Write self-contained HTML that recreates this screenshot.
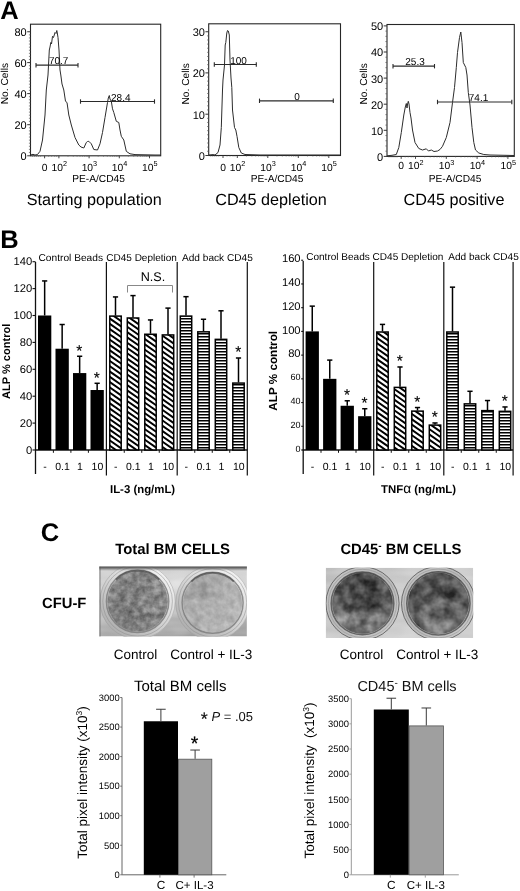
<!DOCTYPE html>
<html lang="en"><head><meta charset="utf-8"><title>Figure</title>
<style>
html,body{margin:0;padding:0;background:#fff;}
svg{display:block;font-family:"Liberation Sans", Arial, Helvetica, sans-serif;will-change:transform;-webkit-font-smoothing:antialiased;}
</style></head><body>
<svg width="520" height="891" viewBox="0 0 520 891" text-rendering="geometricPrecision">
<rect width="520" height="891" fill="#fff"/>

<defs>
<pattern id="hatch" patternUnits="userSpaceOnUse" width="4.2" height="3.3" >
  <rect width="4.2" height="3.3" fill="#fff"/>
  <path d="M-4.2,-3.3 L8.4,6.6 M-4.2,0 L8.4,9.9 M-4.2,-6.6 L8.4,3.3" stroke="#000" stroke-width="1.25"/>
</pattern>
<pattern id="hstripe" patternUnits="userSpaceOnUse" width="4" height="2.72">
  <rect width="4" height="2.72" fill="#fff"/>
  <rect y="0.9" width="4" height="1.25" fill="#000"/>
</pattern>
<filter id="gsoft" x="0" y="0" width="520" height="891" filterUnits="userSpaceOnUse" color-interpolation-filters="sRGB"><feGaussianBlur stdDeviation="0.32"/></filter>
<filter id="soft" x="-2%" y="-2%" width="104%" height="104%" color-interpolation-filters="sRGB"><feGaussianBlur stdDeviation="0.45"/></filter>
<filter id="bgnoise" x="0" y="0" width="100%" height="100%" color-interpolation-filters="sRGB">
  <feTurbulence type="fractalNoise" baseFrequency="0.03 0.12" numOctaves="2" seed="5"/>
  <feColorMatrix type="matrix" values="0 0 0 0 0  0 0 0 0 0  0 0 0 0 0  1.6 0 0 0 -0.3" result="n"/>
  <feFlood flood-color="#fff"/><feComposite in2="n" operator="in"/>
</filter>
<filter id="m1" x="0" y="0" width="100%" height="100%" color-interpolation-filters="sRGB">
  <feTurbulence type="fractalNoise" baseFrequency="0.15" numOctaves="3" seed="11" result="t"/>
  <feColorMatrix in="t" type="matrix" values="0.867 0 0 0 0.087  0.867 0 0 0 0.087  0.867 0 0 0 0.087  0 0 0 0 1" result="g"/>
  <feComposite in="g" in2="SourceGraphic" operator="in"/>
</filter>
<filter id="m2" x="0" y="0" width="100%" height="100%" color-interpolation-filters="sRGB">
  <feTurbulence type="fractalNoise" baseFrequency="0.13" numOctaves="3" seed="23" result="t"/>
  <feColorMatrix in="t" type="matrix" values="0.622 0 0 0 0.366  0.622 0 0 0 0.366  0.622 0 0 0 0.366  0 0 0 0 1" result="g"/>
  <feComposite in="g" in2="SourceGraphic" operator="in"/>
</filter>
<filter id="m3" x="0" y="0" width="100%" height="100%" color-interpolation-filters="sRGB">
  <feTurbulence type="fractalNoise" baseFrequency="0.09" numOctaves="3" seed="8" result="t"/>
  <feColorMatrix in="t" type="matrix" values="1.111 0 0 0 -0.231  1.111 0 0 0 -0.231  1.111 0 0 0 -0.231  0 0 0 0 1" result="g"/>
  <feComposite in="g" in2="SourceGraphic" operator="in"/>
</filter>
<filter id="m4" x="0" y="0" width="100%" height="100%" color-interpolation-filters="sRGB">
  <feTurbulence type="fractalNoise" baseFrequency="0.09" numOctaves="3" seed="31" result="t"/>
  <feColorMatrix in="t" type="matrix" values="1.067 0 0 0 -0.199  1.067 0 0 0 -0.199  1.067 0 0 0 -0.199  0 0 0 0 1" result="g"/>
  <feComposite in="g" in2="SourceGraphic" operator="in"/>
</filter>

<linearGradient id="bg1" x1="0.3" y1="0" x2="0.45" y2="1"><stop offset="0" stop-color="#cbcbcb"/><stop offset="0.4" stop-color="#cecece"/><stop offset="0.8" stop-color="#adadad"/><stop offset="1" stop-color="#989898"/></linearGradient>
<radialGradient id="bg1b" cx="0.52" cy="0.22" r="0.22"><stop offset="0" stop-color="#dedede" stop-opacity="1"/><stop offset="1" stop-color="#d0d0d0" stop-opacity="0"/></radialGradient>
<linearGradient id="bg2" x1="0" y1="0" x2="1" y2="0.5"><stop offset="0" stop-color="#b8b8b8"/><stop offset="0.5" stop-color="#c6c6c6"/><stop offset="1" stop-color="#cacaca"/></linearGradient>
<linearGradient id="rimg" x1="0.1" y1="0.95" x2="0.8" y2="0.05"><stop offset="0" stop-color="#acacac"/><stop offset="0.45" stop-color="#cfcfcf"/><stop offset="1" stop-color="#f0f0f0"/></linearGradient>
<linearGradient id="rimg2" x1="0" y1="0" x2="1" y2="1"><stop offset="0" stop-color="#c4c4c4"/><stop offset="0.5" stop-color="#b8b8b8"/><stop offset="1" stop-color="#cccccc"/></linearGradient>
<linearGradient id="topband" x1="0" y1="0" x2="0" y2="1"><stop offset="0" stop-color="#3c3c3c" stop-opacity="0.95"/><stop offset="0.4" stop-color="#555" stop-opacity="0.7"/><stop offset="1" stop-color="#888" stop-opacity="0"/></linearGradient>
<radialGradient id="d1"><stop offset="0" stop-color="#7c7c7c"/><stop offset="0.85" stop-color="#808080"/><stop offset="1" stop-color="#8e8e8e"/></radialGradient>
<linearGradient id="d2" x1="0.15" y1="0.1" x2="0.85" y2="0.9"><stop offset="0" stop-color="#a0a0a0"/><stop offset="0.5" stop-color="#b0b0b0"/><stop offset="1" stop-color="#c4c4c4"/></linearGradient>
<radialGradient id="d3" cx="0.5" cy="0.4"><stop offset="0" stop-color="#404040"/><stop offset="0.8" stop-color="#585858"/><stop offset="1" stop-color="#6a6a6a"/></radialGradient>
<radialGradient id="d4" cx="0.5" cy="0.45"><stop offset="0" stop-color="#4c4c4c"/><stop offset="0.8" stop-color="#5a5a5a"/><stop offset="1" stop-color="#6c6c6c"/></radialGradient>
<filter id="pblur" x="-50%" y="-50%" width="200%" height="200%" color-interpolation-filters="sRGB"><feGaussianBlur stdDeviation="3.2"/></filter>
<clipPath id="dcd1"><circle cx="137.6" cy="601.3" r="30.2"/></clipPath>
<clipPath id="dcd2"><circle cx="212.6" cy="602.8" r="29.5"/></clipPath>
<clipPath id="dcd3"><circle cx="362.5" cy="603.4" r="30.3"/></clipPath>
<clipPath id="dcd4"><circle cx="438.4" cy="603.4" r="30.6"/></clipPath>
<clipPath id="pc1"><rect x="99.3" y="566.7" width="147.6" height="69.8"/></clipPath>
<clipPath id="pc2"><rect x="325.7" y="567.7" width="147.5" height="70.3"/></clipPath>
</defs>

<g filter="url(#gsoft)">
<rect x="30.5" y="24.2" width="130.2" height="131.60000000000002" fill="none" stroke="#262626" stroke-width="1.1"/>
<line x1="27.2" y1="31.75" x2="30.5" y2="31.75" stroke="#333" stroke-width="1.0" />
<text x="26.7" y="36.15" font-size="11" text-anchor="end" font-weight="normal" fill="#000" >80</text>
<line x1="27.2" y1="62.6" x2="30.5" y2="62.6" stroke="#333" stroke-width="1.0" />
<text x="26.7" y="67.0" font-size="11" text-anchor="end" font-weight="normal" fill="#000" >60</text>
<line x1="27.2" y1="93.6" x2="30.5" y2="93.6" stroke="#333" stroke-width="1.0" />
<text x="26.7" y="98.0" font-size="11" text-anchor="end" font-weight="normal" fill="#000" >40</text>
<line x1="27.2" y1="124.7" x2="30.5" y2="124.7" stroke="#333" stroke-width="1.0" />
<text x="26.7" y="129.1" font-size="11" text-anchor="end" font-weight="normal" fill="#000" >20</text>
<line x1="27.2" y1="155.8" x2="30.5" y2="155.8" stroke="#333" stroke-width="1.0" />
<text x="26.7" y="160.20000000000002" font-size="11" text-anchor="end" font-weight="normal" fill="#000" >0</text>
<line x1="28.9" y1="34.835" x2="30.5" y2="34.835" stroke="#555" stroke-width="0.7" />
<line x1="28.9" y1="37.92" x2="30.5" y2="37.92" stroke="#555" stroke-width="0.7" />
<line x1="28.9" y1="41.005" x2="30.5" y2="41.005" stroke="#555" stroke-width="0.7" />
<line x1="28.9" y1="44.09" x2="30.5" y2="44.09" stroke="#555" stroke-width="0.7" />
<line x1="28.9" y1="47.175" x2="30.5" y2="47.175" stroke="#555" stroke-width="0.7" />
<line x1="28.9" y1="50.260000000000005" x2="30.5" y2="50.260000000000005" stroke="#555" stroke-width="0.7" />
<line x1="28.9" y1="53.345" x2="30.5" y2="53.345" stroke="#555" stroke-width="0.7" />
<line x1="28.9" y1="56.43" x2="30.5" y2="56.43" stroke="#555" stroke-width="0.7" />
<line x1="28.9" y1="59.515" x2="30.5" y2="59.515" stroke="#555" stroke-width="0.7" />
<line x1="28.9" y1="65.685" x2="30.5" y2="65.685" stroke="#555" stroke-width="0.7" />
<line x1="28.9" y1="68.77" x2="30.5" y2="68.77" stroke="#555" stroke-width="0.7" />
<line x1="28.9" y1="71.855" x2="30.5" y2="71.855" stroke="#555" stroke-width="0.7" />
<line x1="28.9" y1="74.94" x2="30.5" y2="74.94" stroke="#555" stroke-width="0.7" />
<line x1="28.9" y1="78.025" x2="30.5" y2="78.025" stroke="#555" stroke-width="0.7" />
<line x1="28.9" y1="81.11" x2="30.5" y2="81.11" stroke="#555" stroke-width="0.7" />
<line x1="28.9" y1="84.19500000000001" x2="30.5" y2="84.19500000000001" stroke="#555" stroke-width="0.7" />
<line x1="28.9" y1="87.28" x2="30.5" y2="87.28" stroke="#555" stroke-width="0.7" />
<line x1="28.9" y1="90.36500000000001" x2="30.5" y2="90.36500000000001" stroke="#555" stroke-width="0.7" />
<line x1="28.9" y1="96.68499999999999" x2="30.5" y2="96.68499999999999" stroke="#555" stroke-width="0.7" />
<line x1="28.9" y1="99.77" x2="30.5" y2="99.77" stroke="#555" stroke-width="0.7" />
<line x1="28.9" y1="102.85499999999999" x2="30.5" y2="102.85499999999999" stroke="#555" stroke-width="0.7" />
<line x1="28.9" y1="105.94" x2="30.5" y2="105.94" stroke="#555" stroke-width="0.7" />
<line x1="28.9" y1="109.02499999999999" x2="30.5" y2="109.02499999999999" stroke="#555" stroke-width="0.7" />
<line x1="28.9" y1="112.11" x2="30.5" y2="112.11" stroke="#555" stroke-width="0.7" />
<line x1="28.9" y1="115.195" x2="30.5" y2="115.195" stroke="#555" stroke-width="0.7" />
<line x1="28.9" y1="118.28" x2="30.5" y2="118.28" stroke="#555" stroke-width="0.7" />
<line x1="28.9" y1="121.365" x2="30.5" y2="121.365" stroke="#555" stroke-width="0.7" />
<line x1="28.9" y1="127.785" x2="30.5" y2="127.785" stroke="#555" stroke-width="0.7" />
<line x1="28.9" y1="130.87" x2="30.5" y2="130.87" stroke="#555" stroke-width="0.7" />
<line x1="28.9" y1="133.955" x2="30.5" y2="133.955" stroke="#555" stroke-width="0.7" />
<line x1="28.9" y1="137.04" x2="30.5" y2="137.04" stroke="#555" stroke-width="0.7" />
<line x1="28.9" y1="140.125" x2="30.5" y2="140.125" stroke="#555" stroke-width="0.7" />
<line x1="28.9" y1="143.21" x2="30.5" y2="143.21" stroke="#555" stroke-width="0.7" />
<line x1="28.9" y1="146.29500000000002" x2="30.5" y2="146.29500000000002" stroke="#555" stroke-width="0.7" />
<line x1="28.9" y1="149.38" x2="30.5" y2="149.38" stroke="#555" stroke-width="0.7" />
<line x1="28.9" y1="152.465" x2="30.5" y2="152.465" stroke="#555" stroke-width="0.7" />
<line x1="44.6" y1="155.8" x2="44.6" y2="158.3" stroke="#333" stroke-width="0.9" />
<text x="44.6" y="170.8" font-size="10.3" text-anchor="middle" font-weight="normal" fill="#000" >0</text>
<line x1="58.900000000000006" y1="155.8" x2="58.900000000000006" y2="158.3" stroke="#333" stroke-width="0.9" />
 <text x="59.2" y="170.8" font-size="10.3" text-anchor="middle" fill="#000">10<tspan dy="-4.4" font-size="7.3">2</tspan></text>
<line x1="67.99110586905223" y1="155.8" x2="67.99110586905223" y2="157.0" stroke="#666" stroke-width="0.5" />
<line x1="73.3090618925338" y1="155.8" x2="73.3090618925338" y2="157.0" stroke="#666" stroke-width="0.5" />
<line x1="77.08221173810446" y1="155.8" x2="77.08221173810446" y2="157.0" stroke="#666" stroke-width="0.5" />
<line x1="80.00889413094777" y1="155.8" x2="80.00889413094777" y2="157.0" stroke="#666" stroke-width="0.5" />
<line x1="82.40016776158605" y1="155.8" x2="82.40016776158605" y2="157.0" stroke="#666" stroke-width="0.5" />
<line x1="84.42196080843055" y1="155.8" x2="84.42196080843055" y2="157.0" stroke="#666" stroke-width="0.5" />
<line x1="86.1733176071567" y1="155.8" x2="86.1733176071567" y2="157.0" stroke="#666" stroke-width="0.5" />
<line x1="87.71812378506762" y1="155.8" x2="87.71812378506762" y2="157.0" stroke="#666" stroke-width="0.5" />
<line x1="89.10000000000001" y1="155.8" x2="89.10000000000001" y2="158.3" stroke="#333" stroke-width="0.9" />
 <text x="89.4" y="170.8" font-size="10.3" text-anchor="middle" fill="#000">10<tspan dy="-4.4" font-size="7.3">3</tspan></text>
<line x1="98.19110586905224" y1="155.8" x2="98.19110586905224" y2="157.0" stroke="#666" stroke-width="0.5" />
<line x1="103.50906189253381" y1="155.8" x2="103.50906189253381" y2="157.0" stroke="#666" stroke-width="0.5" />
<line x1="107.28221173810448" y1="155.8" x2="107.28221173810448" y2="157.0" stroke="#666" stroke-width="0.5" />
<line x1="110.20889413094778" y1="155.8" x2="110.20889413094778" y2="157.0" stroke="#666" stroke-width="0.5" />
<line x1="112.60016776158605" y1="155.8" x2="112.60016776158605" y2="157.0" stroke="#666" stroke-width="0.5" />
<line x1="114.62196080843057" y1="155.8" x2="114.62196080843057" y2="157.0" stroke="#666" stroke-width="0.5" />
<line x1="116.37331760715671" y1="155.8" x2="116.37331760715671" y2="157.0" stroke="#666" stroke-width="0.5" />
<line x1="117.91812378506762" y1="155.8" x2="117.91812378506762" y2="157.0" stroke="#666" stroke-width="0.5" />
<line x1="119.30000000000001" y1="155.8" x2="119.30000000000001" y2="158.3" stroke="#333" stroke-width="0.9" />
 <text x="119.60000000000001" y="170.8" font-size="10.3" text-anchor="middle" fill="#000">10<tspan dy="-4.4" font-size="7.3">4</tspan></text>
<line x1="128.39110586905224" y1="155.8" x2="128.39110586905224" y2="157.0" stroke="#666" stroke-width="0.5" />
<line x1="133.7090618925338" y1="155.8" x2="133.7090618925338" y2="157.0" stroke="#666" stroke-width="0.5" />
<line x1="137.48221173810447" y1="155.8" x2="137.48221173810447" y2="157.0" stroke="#666" stroke-width="0.5" />
<line x1="140.40889413094777" y1="155.8" x2="140.40889413094777" y2="157.0" stroke="#666" stroke-width="0.5" />
<line x1="142.80016776158604" y1="155.8" x2="142.80016776158604" y2="157.0" stroke="#666" stroke-width="0.5" />
<line x1="144.82196080843056" y1="155.8" x2="144.82196080843056" y2="157.0" stroke="#666" stroke-width="0.5" />
<line x1="146.5733176071567" y1="155.8" x2="146.5733176071567" y2="157.0" stroke="#666" stroke-width="0.5" />
<line x1="148.1181237850676" y1="155.8" x2="148.1181237850676" y2="157.0" stroke="#666" stroke-width="0.5" />
<line x1="149.5" y1="155.8" x2="149.5" y2="158.3" stroke="#333" stroke-width="0.9" />
 <text x="149.8" y="170.8" font-size="10.3" text-anchor="middle" fill="#000">10<tspan dy="-4.4" font-size="7.3">5</tspan></text>
<line x1="32.5" y1="155.8" x2="32.5" y2="157.0" stroke="#666" stroke-width="0.5" />
<line x1="34.5" y1="155.8" x2="34.5" y2="157.0" stroke="#666" stroke-width="0.5" />
<line x1="36.5" y1="155.8" x2="36.5" y2="157.0" stroke="#666" stroke-width="0.5" />
<line x1="38.5" y1="155.8" x2="38.5" y2="157.0" stroke="#666" stroke-width="0.5" />
<line x1="40.5" y1="155.8" x2="40.5" y2="157.0" stroke="#666" stroke-width="0.5" />
<line x1="48.6" y1="155.8" x2="48.6" y2="157.0" stroke="#666" stroke-width="0.5" />
<line x1="51.6" y1="155.8" x2="51.6" y2="157.0" stroke="#666" stroke-width="0.5" />
<line x1="54.6" y1="155.8" x2="54.6" y2="157.0" stroke="#666" stroke-width="0.5" />
<line x1="56.6" y1="155.8" x2="56.6" y2="157.0" stroke="#666" stroke-width="0.5" />
<polyline points="30.50,155.00 33.00,154.30 35.00,155.00 37.50,154.50 40.00,151.30 42.50,140.00 45.00,115.00 46.30,90.00 48.00,75.00 49.30,50.00 50.00,47.00 50.80,42.50 51.50,44.00 52.50,36.30 53.50,37.50 55.00,32.50 56.00,33.50 56.80,30.50 57.30,33.00 58.00,37.50 59.00,50.00 60.00,70.00 60.80,75.00 62.00,84.00 63.80,90.00 65.50,101.30 67.00,102.50 68.80,115.00 71.30,125.00 75.00,137.50 78.80,145.00 81.00,147.00 83.80,148.00 86.30,142.50 87.50,141.50 88.80,141.30 91.30,143.80 93.80,149.50 97.50,150.00 100.00,143.80 102.50,132.50 105.00,117.50 107.50,102.50 108.30,98.00 109.30,95.50 110.00,99.00 111.30,101.30 112.50,108.80 113.80,112.50 116.30,121.30 118.80,122.50 120.00,130.00 121.30,136.30 123.80,140.00 126.30,151.30 128.00,152.50 130.00,153.80 135.00,154.60 145.00,154.80 155.00,155.00 160.50,155.00" fill="none" stroke="#2c2c2c" stroke-width="1.0" stroke-linejoin="round"/>
<line x1="36" y1="65.2" x2="78" y2="65.2" stroke="#2a2a2a" stroke-width="1.2" />
<line x1="36" y1="63.0" x2="36" y2="67.4" stroke="#2a2a2a" stroke-width="1.1" />
<line x1="78" y1="63.0" x2="78" y2="67.4" stroke="#2a2a2a" stroke-width="1.1" />
<text x="58.7" y="64.2" font-size="10" text-anchor="middle" font-weight="normal" fill="#000" >70.7</text>
<line x1="80.5" y1="101.5" x2="154.5" y2="101.5" stroke="#2a2a2a" stroke-width="1.2" />
<line x1="80.5" y1="99.3" x2="80.5" y2="103.7" stroke="#2a2a2a" stroke-width="1.1" />
<line x1="154.5" y1="99.3" x2="154.5" y2="103.7" stroke="#2a2a2a" stroke-width="1.1" />
<text x="120.8" y="100.5" font-size="10" text-anchor="middle" font-weight="normal" fill="#000" >28.4</text>
<text transform="translate(8.2 83.6) rotate(-90)" font-size="10.2" text-anchor="middle" font-weight="normal" fill="#000">No. Cells</text>
<text x="98.5" y="182.4" font-size="10.2" text-anchor="middle" font-weight="normal" fill="#000" >PE-A/CD45</text>
<text x="94.3" y="204.7" font-size="16.2" text-anchor="middle" font-weight="normal" fill="#000" >Starting population</text>
<rect x="208.7" y="23.8" width="131.8" height="131.7" fill="none" stroke="#262626" stroke-width="1.1"/>
<line x1="205.39999999999998" y1="31.75" x2="208.7" y2="31.75" stroke="#333" stroke-width="1.0" />
<text x="204.89999999999998" y="36.15" font-size="11" text-anchor="end" font-weight="normal" fill="#000" >30</text>
<line x1="205.39999999999998" y1="72.9" x2="208.7" y2="72.9" stroke="#333" stroke-width="1.0" />
<text x="204.89999999999998" y="77.30000000000001" font-size="11" text-anchor="end" font-weight="normal" fill="#000" >20</text>
<line x1="205.39999999999998" y1="114.2" x2="208.7" y2="114.2" stroke="#333" stroke-width="1.0" />
<text x="204.89999999999998" y="118.60000000000001" font-size="11" text-anchor="end" font-weight="normal" fill="#000" >10</text>
<line x1="205.39999999999998" y1="155.5" x2="208.7" y2="155.5" stroke="#333" stroke-width="1.0" />
<text x="204.89999999999998" y="159.9" font-size="11" text-anchor="end" font-weight="normal" fill="#000" >0</text>
<line x1="207.1" y1="35.865" x2="208.7" y2="35.865" stroke="#555" stroke-width="0.7" />
<line x1="207.1" y1="39.980000000000004" x2="208.7" y2="39.980000000000004" stroke="#555" stroke-width="0.7" />
<line x1="207.1" y1="44.095" x2="208.7" y2="44.095" stroke="#555" stroke-width="0.7" />
<line x1="207.1" y1="48.21" x2="208.7" y2="48.21" stroke="#555" stroke-width="0.7" />
<line x1="207.1" y1="52.325" x2="208.7" y2="52.325" stroke="#555" stroke-width="0.7" />
<line x1="207.1" y1="56.440000000000005" x2="208.7" y2="56.440000000000005" stroke="#555" stroke-width="0.7" />
<line x1="207.1" y1="60.55500000000001" x2="208.7" y2="60.55500000000001" stroke="#555" stroke-width="0.7" />
<line x1="207.1" y1="64.67" x2="208.7" y2="64.67" stroke="#555" stroke-width="0.7" />
<line x1="207.1" y1="68.785" x2="208.7" y2="68.785" stroke="#555" stroke-width="0.7" />
<line x1="207.1" y1="77.015" x2="208.7" y2="77.015" stroke="#555" stroke-width="0.7" />
<line x1="207.1" y1="81.13000000000001" x2="208.7" y2="81.13000000000001" stroke="#555" stroke-width="0.7" />
<line x1="207.1" y1="85.245" x2="208.7" y2="85.245" stroke="#555" stroke-width="0.7" />
<line x1="207.1" y1="89.36000000000001" x2="208.7" y2="89.36000000000001" stroke="#555" stroke-width="0.7" />
<line x1="207.1" y1="93.47500000000001" x2="208.7" y2="93.47500000000001" stroke="#555" stroke-width="0.7" />
<line x1="207.1" y1="97.59" x2="208.7" y2="97.59" stroke="#555" stroke-width="0.7" />
<line x1="207.1" y1="101.70500000000001" x2="208.7" y2="101.70500000000001" stroke="#555" stroke-width="0.7" />
<line x1="207.1" y1="105.82000000000001" x2="208.7" y2="105.82000000000001" stroke="#555" stroke-width="0.7" />
<line x1="207.1" y1="109.935" x2="208.7" y2="109.935" stroke="#555" stroke-width="0.7" />
<line x1="207.1" y1="118.315" x2="208.7" y2="118.315" stroke="#555" stroke-width="0.7" />
<line x1="207.1" y1="122.43" x2="208.7" y2="122.43" stroke="#555" stroke-width="0.7" />
<line x1="207.1" y1="126.545" x2="208.7" y2="126.545" stroke="#555" stroke-width="0.7" />
<line x1="207.1" y1="130.66" x2="208.7" y2="130.66" stroke="#555" stroke-width="0.7" />
<line x1="207.1" y1="134.775" x2="208.7" y2="134.775" stroke="#555" stroke-width="0.7" />
<line x1="207.1" y1="138.89000000000001" x2="208.7" y2="138.89000000000001" stroke="#555" stroke-width="0.7" />
<line x1="207.1" y1="143.005" x2="208.7" y2="143.005" stroke="#555" stroke-width="0.7" />
<line x1="207.1" y1="147.12" x2="208.7" y2="147.12" stroke="#555" stroke-width="0.7" />
<line x1="207.1" y1="151.235" x2="208.7" y2="151.235" stroke="#555" stroke-width="0.7" />
<line x1="223" y1="155.5" x2="223" y2="158.0" stroke="#333" stroke-width="0.9" />
<text x="223" y="170.5" font-size="10.3" text-anchor="middle" font-weight="normal" fill="#000" >0</text>
<line x1="237.3" y1="155.5" x2="237.3" y2="158.0" stroke="#333" stroke-width="0.9" />
 <text x="237.60000000000002" y="170.5" font-size="10.3" text-anchor="middle" fill="#000">10<tspan dy="-4.4" font-size="7.3">2</tspan></text>
<line x1="246.48141486775143" y1="155.5" x2="246.48141486775143" y2="156.7" stroke="#666" stroke-width="0.5" />
<line x1="251.8521982689497" y1="155.5" x2="251.8521982689497" y2="156.7" stroke="#666" stroke-width="0.5" />
<line x1="255.66282973550287" y1="155.5" x2="255.66282973550287" y2="156.7" stroke="#666" stroke-width="0.5" />
<line x1="258.6185851322486" y1="155.5" x2="258.6185851322486" y2="156.7" stroke="#666" stroke-width="0.5" />
<line x1="261.03361313670115" y1="155.5" x2="261.03361313670115" y2="156.7" stroke="#666" stroke-width="0.5" />
<line x1="263.07549022043486" y1="155.5" x2="263.07549022043486" y2="156.7" stroke="#666" stroke-width="0.5" />
<line x1="264.8442446032543" y1="155.5" x2="264.8442446032543" y2="156.7" stroke="#666" stroke-width="0.5" />
<line x1="266.4043965378994" y1="155.5" x2="266.4043965378994" y2="156.7" stroke="#666" stroke-width="0.5" />
<line x1="267.8" y1="155.5" x2="267.8" y2="158.0" stroke="#333" stroke-width="0.9" />
 <text x="268.1" y="170.5" font-size="10.3" text-anchor="middle" fill="#000">10<tspan dy="-4.4" font-size="7.3">3</tspan></text>
<line x1="276.9814148677514" y1="155.5" x2="276.9814148677514" y2="156.7" stroke="#666" stroke-width="0.5" />
<line x1="282.35219826894973" y1="155.5" x2="282.35219826894973" y2="156.7" stroke="#666" stroke-width="0.5" />
<line x1="286.16282973550284" y1="155.5" x2="286.16282973550284" y2="156.7" stroke="#666" stroke-width="0.5" />
<line x1="289.1185851322486" y1="155.5" x2="289.1185851322486" y2="156.7" stroke="#666" stroke-width="0.5" />
<line x1="291.53361313670115" y1="155.5" x2="291.53361313670115" y2="156.7" stroke="#666" stroke-width="0.5" />
<line x1="293.57549022043486" y1="155.5" x2="293.57549022043486" y2="156.7" stroke="#666" stroke-width="0.5" />
<line x1="295.3442446032543" y1="155.5" x2="295.3442446032543" y2="156.7" stroke="#666" stroke-width="0.5" />
<line x1="296.9043965378994" y1="155.5" x2="296.9043965378994" y2="156.7" stroke="#666" stroke-width="0.5" />
<line x1="298.3" y1="155.5" x2="298.3" y2="158.0" stroke="#333" stroke-width="0.9" />
 <text x="298.6" y="170.5" font-size="10.3" text-anchor="middle" fill="#000">10<tspan dy="-4.4" font-size="7.3">4</tspan></text>
<line x1="307.4814148677514" y1="155.5" x2="307.4814148677514" y2="156.7" stroke="#666" stroke-width="0.5" />
<line x1="312.85219826894973" y1="155.5" x2="312.85219826894973" y2="156.7" stroke="#666" stroke-width="0.5" />
<line x1="316.66282973550284" y1="155.5" x2="316.66282973550284" y2="156.7" stroke="#666" stroke-width="0.5" />
<line x1="319.6185851322486" y1="155.5" x2="319.6185851322486" y2="156.7" stroke="#666" stroke-width="0.5" />
<line x1="322.03361313670115" y1="155.5" x2="322.03361313670115" y2="156.7" stroke="#666" stroke-width="0.5" />
<line x1="324.07549022043486" y1="155.5" x2="324.07549022043486" y2="156.7" stroke="#666" stroke-width="0.5" />
<line x1="325.8442446032543" y1="155.5" x2="325.8442446032543" y2="156.7" stroke="#666" stroke-width="0.5" />
<line x1="327.4043965378994" y1="155.5" x2="327.4043965378994" y2="156.7" stroke="#666" stroke-width="0.5" />
<line x1="328.8" y1="155.5" x2="328.8" y2="158.0" stroke="#333" stroke-width="0.9" />
 <text x="329.1" y="170.5" font-size="10.3" text-anchor="middle" fill="#000">10<tspan dy="-4.4" font-size="7.3">5</tspan></text>
<line x1="210.7" y1="155.5" x2="210.7" y2="156.7" stroke="#666" stroke-width="0.5" />
<line x1="212.7" y1="155.5" x2="212.7" y2="156.7" stroke="#666" stroke-width="0.5" />
<line x1="214.7" y1="155.5" x2="214.7" y2="156.7" stroke="#666" stroke-width="0.5" />
<line x1="216.7" y1="155.5" x2="216.7" y2="156.7" stroke="#666" stroke-width="0.5" />
<line x1="218.7" y1="155.5" x2="218.7" y2="156.7" stroke="#666" stroke-width="0.5" />
<line x1="227" y1="155.5" x2="227" y2="156.7" stroke="#666" stroke-width="0.5" />
<line x1="230" y1="155.5" x2="230" y2="156.7" stroke="#666" stroke-width="0.5" />
<line x1="233" y1="155.5" x2="233" y2="156.7" stroke="#666" stroke-width="0.5" />
<line x1="235" y1="155.5" x2="235" y2="156.7" stroke="#666" stroke-width="0.5" />
<polyline points="208.80,155.00 213.00,154.60 215.00,155.00 218.00,152.50 220.00,145.00 221.30,127.50 222.50,90.00 223.00,80.00 224.50,65.00 225.20,45.00 225.80,42.50 226.80,33.00 227.50,30.50 228.30,31.00 229.30,35.00 230.00,60.00 231.00,78.00 231.80,87.50 232.50,110.00 234.50,127.50 235.80,130.00 237.00,136.30 238.80,147.50 241.30,153.00 245.00,154.50 260.00,155.00 300.00,155.00 340.00,155.00" fill="none" stroke="#2c2c2c" stroke-width="1.0" stroke-linejoin="round"/>
<line x1="214.3" y1="64.5" x2="256.3" y2="64.5" stroke="#2a2a2a" stroke-width="1.2" />
<line x1="214.3" y1="62.3" x2="214.3" y2="66.7" stroke="#2a2a2a" stroke-width="1.1" />
<line x1="256.3" y1="62.3" x2="256.3" y2="66.7" stroke="#2a2a2a" stroke-width="1.1" />
<text x="238.5" y="63.5" font-size="10" text-anchor="middle" font-weight="normal" fill="#000" >100</text>
<line x1="259.5" y1="100.8" x2="333.3" y2="100.8" stroke="#2a2a2a" stroke-width="1.2" />
<line x1="259.5" y1="98.6" x2="259.5" y2="103.0" stroke="#2a2a2a" stroke-width="1.1" />
<line x1="333.3" y1="98.6" x2="333.3" y2="103.0" stroke="#2a2a2a" stroke-width="1.1" />
<text x="297" y="99.8" font-size="10" text-anchor="middle" font-weight="normal" fill="#000" >0</text>
<text transform="translate(189.2 83.89999999999999) rotate(-90)" font-size="10.2" text-anchor="middle" font-weight="normal" fill="#000">No. Cells</text>
<text x="277" y="182.1" font-size="10.2" text-anchor="middle" font-weight="normal" fill="#000" >PE-A/CD45</text>
<text x="271" y="204.7" font-size="16.2" text-anchor="middle" font-weight="normal" fill="#000" >CD45 depletion</text>
<rect x="387" y="24.5" width="127.29999999999995" height="131.9" fill="none" stroke="#262626" stroke-width="1.1"/>
<line x1="383.7" y1="25.9" x2="387" y2="25.9" stroke="#333" stroke-width="1.0" />
<text x="383.2" y="30.299999999999997" font-size="11" text-anchor="end" font-weight="normal" fill="#000" >50</text>
<line x1="383.7" y1="52.0" x2="387" y2="52.0" stroke="#333" stroke-width="1.0" />
<text x="383.2" y="56.4" font-size="11" text-anchor="end" font-weight="normal" fill="#000" >40</text>
<line x1="383.7" y1="78.1" x2="387" y2="78.1" stroke="#333" stroke-width="1.0" />
<text x="383.2" y="82.5" font-size="11" text-anchor="end" font-weight="normal" fill="#000" >30</text>
<line x1="383.7" y1="104.2" x2="387" y2="104.2" stroke="#333" stroke-width="1.0" />
<text x="383.2" y="108.60000000000001" font-size="11" text-anchor="end" font-weight="normal" fill="#000" >20</text>
<line x1="383.7" y1="130.3" x2="387" y2="130.3" stroke="#333" stroke-width="1.0" />
<text x="383.2" y="134.70000000000002" font-size="11" text-anchor="end" font-weight="normal" fill="#000" >10</text>
<line x1="383.7" y1="156.4" x2="387" y2="156.4" stroke="#333" stroke-width="1.0" />
<text x="383.2" y="160.8" font-size="11" text-anchor="end" font-weight="normal" fill="#000" >0</text>
<line x1="385.4" y1="31.119999999999997" x2="387" y2="31.119999999999997" stroke="#555" stroke-width="0.7" />
<line x1="385.4" y1="36.34" x2="387" y2="36.34" stroke="#555" stroke-width="0.7" />
<line x1="385.4" y1="41.56" x2="387" y2="41.56" stroke="#555" stroke-width="0.7" />
<line x1="385.4" y1="46.78" x2="387" y2="46.78" stroke="#555" stroke-width="0.7" />
<line x1="385.4" y1="57.22" x2="387" y2="57.22" stroke="#555" stroke-width="0.7" />
<line x1="385.4" y1="62.44" x2="387" y2="62.44" stroke="#555" stroke-width="0.7" />
<line x1="385.4" y1="67.66" x2="387" y2="67.66" stroke="#555" stroke-width="0.7" />
<line x1="385.4" y1="72.88" x2="387" y2="72.88" stroke="#555" stroke-width="0.7" />
<line x1="385.4" y1="83.32" x2="387" y2="83.32" stroke="#555" stroke-width="0.7" />
<line x1="385.4" y1="88.53999999999999" x2="387" y2="88.53999999999999" stroke="#555" stroke-width="0.7" />
<line x1="385.4" y1="93.75999999999999" x2="387" y2="93.75999999999999" stroke="#555" stroke-width="0.7" />
<line x1="385.4" y1="98.97999999999999" x2="387" y2="98.97999999999999" stroke="#555" stroke-width="0.7" />
<line x1="385.4" y1="109.42" x2="387" y2="109.42" stroke="#555" stroke-width="0.7" />
<line x1="385.4" y1="114.64" x2="387" y2="114.64" stroke="#555" stroke-width="0.7" />
<line x1="385.4" y1="119.86" x2="387" y2="119.86" stroke="#555" stroke-width="0.7" />
<line x1="385.4" y1="125.08000000000001" x2="387" y2="125.08000000000001" stroke="#555" stroke-width="0.7" />
<line x1="385.4" y1="135.52" x2="387" y2="135.52" stroke="#555" stroke-width="0.7" />
<line x1="385.4" y1="140.74" x2="387" y2="140.74" stroke="#555" stroke-width="0.7" />
<line x1="385.4" y1="145.96" x2="387" y2="145.96" stroke="#555" stroke-width="0.7" />
<line x1="385.4" y1="151.18" x2="387" y2="151.18" stroke="#555" stroke-width="0.7" />
<line x1="401.2" y1="156.4" x2="401.2" y2="158.9" stroke="#333" stroke-width="0.9" />
<text x="401.2" y="169.4" font-size="10.3" text-anchor="middle" font-weight="normal" fill="#000" >0</text>
<line x1="415.5" y1="156.4" x2="415.5" y2="158.9" stroke="#333" stroke-width="0.9" />
 <text x="415.8" y="169.4" font-size="10.3" text-anchor="middle" fill="#000">10<tspan dy="-4.4" font-size="7.3">2</tspan></text>
<line x1="424.7717238664506" y1="156.4" x2="424.7717238664506" y2="157.6" stroke="#666" stroke-width="0.5" />
<line x1="430.1953346453656" y1="156.4" x2="430.1953346453656" y2="157.6" stroke="#666" stroke-width="0.5" />
<line x1="434.04344773290126" y1="156.4" x2="434.04344773290126" y2="157.6" stroke="#666" stroke-width="0.5" />
<line x1="437.0282761335494" y1="156.4" x2="437.0282761335494" y2="157.6" stroke="#666" stroke-width="0.5" />
<line x1="439.4670585118162" y1="156.4" x2="439.4670585118162" y2="157.6" stroke="#666" stroke-width="0.5" />
<line x1="441.5290196324391" y1="156.4" x2="441.5290196324391" y2="157.6" stroke="#666" stroke-width="0.5" />
<line x1="443.31517159935186" y1="156.4" x2="443.31517159935186" y2="157.6" stroke="#666" stroke-width="0.5" />
<line x1="444.8906692907312" y1="156.4" x2="444.8906692907312" y2="157.6" stroke="#666" stroke-width="0.5" />
<line x1="446.3" y1="156.4" x2="446.3" y2="158.9" stroke="#333" stroke-width="0.9" />
 <text x="446.6" y="169.4" font-size="10.3" text-anchor="middle" fill="#000">10<tspan dy="-4.4" font-size="7.3">3</tspan></text>
<line x1="455.5717238664506" y1="156.4" x2="455.5717238664506" y2="157.6" stroke="#666" stroke-width="0.5" />
<line x1="460.99533464536563" y1="156.4" x2="460.99533464536563" y2="157.6" stroke="#666" stroke-width="0.5" />
<line x1="464.84344773290127" y1="156.4" x2="464.84344773290127" y2="157.6" stroke="#666" stroke-width="0.5" />
<line x1="467.82827613354937" y1="156.4" x2="467.82827613354937" y2="157.6" stroke="#666" stroke-width="0.5" />
<line x1="470.26705851181623" y1="156.4" x2="470.26705851181623" y2="157.6" stroke="#666" stroke-width="0.5" />
<line x1="472.3290196324391" y1="156.4" x2="472.3290196324391" y2="157.6" stroke="#666" stroke-width="0.5" />
<line x1="474.11517159935187" y1="156.4" x2="474.11517159935187" y2="157.6" stroke="#666" stroke-width="0.5" />
<line x1="475.6906692907312" y1="156.4" x2="475.6906692907312" y2="157.6" stroke="#666" stroke-width="0.5" />
<line x1="477.1" y1="156.4" x2="477.1" y2="158.9" stroke="#333" stroke-width="0.9" />
 <text x="477.40000000000003" y="169.4" font-size="10.3" text-anchor="middle" fill="#000">10<tspan dy="-4.4" font-size="7.3">4</tspan></text>
<line x1="486.3717238664506" y1="156.4" x2="486.3717238664506" y2="157.6" stroke="#666" stroke-width="0.5" />
<line x1="491.79533464536564" y1="156.4" x2="491.79533464536564" y2="157.6" stroke="#666" stroke-width="0.5" />
<line x1="495.6434477329013" y1="156.4" x2="495.6434477329013" y2="157.6" stroke="#666" stroke-width="0.5" />
<line x1="498.62827613354943" y1="156.4" x2="498.62827613354943" y2="157.6" stroke="#666" stroke-width="0.5" />
<line x1="501.06705851181624" y1="156.4" x2="501.06705851181624" y2="157.6" stroke="#666" stroke-width="0.5" />
<line x1="503.1290196324391" y1="156.4" x2="503.1290196324391" y2="157.6" stroke="#666" stroke-width="0.5" />
<line x1="504.9151715993519" y1="156.4" x2="504.9151715993519" y2="157.6" stroke="#666" stroke-width="0.5" />
<line x1="506.4906692907312" y1="156.4" x2="506.4906692907312" y2="157.6" stroke="#666" stroke-width="0.5" />
<line x1="507.9" y1="156.4" x2="507.9" y2="158.9" stroke="#333" stroke-width="0.9" />
 <text x="508.2" y="169.4" font-size="10.3" text-anchor="middle" fill="#000">10<tspan dy="-4.4" font-size="7.3">5</tspan></text>
<line x1="389" y1="156.4" x2="389" y2="157.6" stroke="#666" stroke-width="0.5" />
<line x1="391" y1="156.4" x2="391" y2="157.6" stroke="#666" stroke-width="0.5" />
<line x1="393" y1="156.4" x2="393" y2="157.6" stroke="#666" stroke-width="0.5" />
<line x1="395" y1="156.4" x2="395" y2="157.6" stroke="#666" stroke-width="0.5" />
<line x1="397" y1="156.4" x2="397" y2="157.6" stroke="#666" stroke-width="0.5" />
<line x1="405.2" y1="156.4" x2="405.2" y2="157.6" stroke="#666" stroke-width="0.5" />
<line x1="408.2" y1="156.4" x2="408.2" y2="157.6" stroke="#666" stroke-width="0.5" />
<line x1="411.2" y1="156.4" x2="411.2" y2="157.6" stroke="#666" stroke-width="0.5" />
<line x1="413.2" y1="156.4" x2="413.2" y2="157.6" stroke="#666" stroke-width="0.5" />
<polyline points="387.00,155.80 392.00,155.30 396.30,154.50 398.80,147.50 401.30,132.50 403.80,115.00 405.30,107.00 406.30,103.50 407.00,108.00 407.60,104.00 408.30,101.30 409.00,104.00 410.00,112.50 411.00,118.00 412.50,130.00 415.00,142.50 418.80,148.50 422.50,150.00 426.30,148.80 428.50,151.00 431.30,150.00 434.00,151.50 437.50,151.00 440.00,149.50 442.50,146.30 446.30,137.50 450.00,122.50 452.50,102.50 454.50,87.50 456.30,67.50 457.50,52.50 459.50,37.50 460.80,32.00 462.00,42.50 463.30,62.50 465.80,67.50 467.00,75.00 468.30,92.50 470.00,105.00 472.00,127.50 473.80,142.50 475.50,150.00 478.80,153.00 483.80,154.50 490.00,155.00 505.00,155.30 514.00,155.50" fill="none" stroke="#2c2c2c" stroke-width="1.0" stroke-linejoin="round"/>
<line x1="393" y1="66.2" x2="434.5" y2="66.2" stroke="#2a2a2a" stroke-width="1.2" />
<line x1="393" y1="64.0" x2="393" y2="68.4" stroke="#2a2a2a" stroke-width="1.1" />
<line x1="434.5" y1="64.0" x2="434.5" y2="68.4" stroke="#2a2a2a" stroke-width="1.1" />
<text x="415" y="65.2" font-size="10" text-anchor="middle" font-weight="normal" fill="#000" >25.3</text>
<line x1="437.5" y1="102" x2="511.8" y2="102" stroke="#2a2a2a" stroke-width="1.2" />
<line x1="437.5" y1="99.8" x2="437.5" y2="104.2" stroke="#2a2a2a" stroke-width="1.1" />
<line x1="511.8" y1="99.8" x2="511.8" y2="104.2" stroke="#2a2a2a" stroke-width="1.1" />
<text x="478.5" y="101.0" font-size="10" text-anchor="middle" font-weight="normal" fill="#000" >74.1</text>
<text transform="translate(366.7 83.89999999999999) rotate(-90)" font-size="10.2" text-anchor="middle" font-weight="normal" fill="#000">No. Cells</text>
<text x="455" y="182.0" font-size="10.2" text-anchor="middle" font-weight="normal" fill="#000" >PE-A/CD45</text>
<text x="454" y="204.7" font-size="16.2" text-anchor="middle" font-weight="normal" fill="#000" >CD45 positive</text>
<text x="0.3" y="18.9" font-size="25.5" text-anchor="start" font-weight="bold" fill="#000" >A</text>
<text x="0.3" y="248" font-size="25.5" text-anchor="start" font-weight="bold" fill="#000" >B</text>
<text x="40.7" y="540.5" font-size="25.5" text-anchor="start" font-weight="bold" fill="#000" >C</text>
<line x1="35.5" y1="262" x2="35.5" y2="474" stroke="#111" stroke-width="1.3" />
<line x1="35.0" y1="450.0" x2="247.3" y2="450.0" stroke="#111" stroke-width="1.4" />
<line x1="32.5" y1="450.0" x2="35.5" y2="450.0" stroke="#111" stroke-width="1.1" />
<text x="32.2" y="453.6" font-size="11.2" text-anchor="end" font-weight="normal" fill="#000" >0</text>
<line x1="32.5" y1="423.1" x2="35.5" y2="423.1" stroke="#111" stroke-width="1.1" />
<text x="32.2" y="426.70000000000005" font-size="11.2" text-anchor="end" font-weight="normal" fill="#000" >20</text>
<line x1="32.5" y1="396.2" x2="35.5" y2="396.2" stroke="#111" stroke-width="1.1" />
<text x="32.2" y="399.8" font-size="11.2" text-anchor="end" font-weight="normal" fill="#000" >40</text>
<line x1="32.5" y1="369.3" x2="35.5" y2="369.3" stroke="#111" stroke-width="1.1" />
<text x="32.2" y="372.90000000000003" font-size="11.2" text-anchor="end" font-weight="normal" fill="#000" >60</text>
<line x1="32.5" y1="342.4" x2="35.5" y2="342.4" stroke="#111" stroke-width="1.1" />
<text x="32.2" y="346.0" font-size="11.2" text-anchor="end" font-weight="normal" fill="#000" >80</text>
<line x1="32.5" y1="315.5" x2="35.5" y2="315.5" stroke="#111" stroke-width="1.1" />
<text x="32.2" y="319.1" font-size="11.2" text-anchor="end" font-weight="normal" fill="#000" >100</text>
<line x1="32.5" y1="288.6" x2="35.5" y2="288.6" stroke="#111" stroke-width="1.1" />
<text x="32.2" y="292.20000000000005" font-size="11.2" text-anchor="end" font-weight="normal" fill="#000" >120</text>
<line x1="32.5" y1="261.70000000000005" x2="35.5" y2="261.70000000000005" stroke="#111" stroke-width="1.1" />
<text x="32.2" y="265.30000000000007" font-size="11.2" text-anchor="end" font-weight="normal" fill="#000" >140</text>
<line x1="106.4" y1="262" x2="106.4" y2="475.5" stroke="#111" stroke-width="1.2" />
<line x1="177.2" y1="262" x2="177.2" y2="475.5" stroke="#111" stroke-width="1.2" />
<line x1="247.3" y1="262" x2="247.3" y2="475.5" stroke="#111" stroke-width="1.2" />
<rect x="38.00" y="315.50" width="13.3" height="134.50" fill="#000"/>
<line x1="44.65" y1="315.5" x2="44.65" y2="280.9335" stroke="#000" stroke-width="1.5" />
<line x1="42.05" y1="280.9335" x2="47.25" y2="280.9335" stroke="#000" stroke-width="1.5" />
<line x1="53.4" y1="450.0" x2="53.4" y2="452.8" stroke="#111" stroke-width="1.0" />
<text x="44.949999999999996" y="470.3" font-size="10.5" text-anchor="middle" font-weight="normal" fill="#000" >-</text>
<rect x="55.50" y="348.72" width="13.3" height="101.28" fill="#000"/>
<line x1="62.15" y1="348.7215" x2="62.15" y2="324.5115" stroke="#000" stroke-width="1.5" />
<line x1="59.55" y1="324.5115" x2="64.75" y2="324.5115" stroke="#000" stroke-width="1.5" />
<line x1="70.89999999999999" y1="450.0" x2="70.89999999999999" y2="452.8" stroke="#111" stroke-width="1.0" />
<text x="62.449999999999996" y="470.3" font-size="10.5" text-anchor="middle" font-weight="normal" fill="#000" >0.1</text>
<rect x="73.00" y="373.07" width="13.3" height="76.93" fill="#000"/>
<line x1="79.65" y1="373.06600000000003" x2="79.65" y2="356.25350000000003" stroke="#000" stroke-width="1.5" />
<line x1="77.05000000000001" y1="356.25350000000003" x2="82.25" y2="356.25350000000003" stroke="#000" stroke-width="1.5" />
<text x="79.35000000000001" y="355.6535" font-size="15.5" text-anchor="middle" font-weight="normal" fill="#000" stroke="#000" stroke-width="0.15">*</text>
<line x1="88.39999999999999" y1="450.0" x2="88.39999999999999" y2="452.8" stroke="#111" stroke-width="1.0" />
<text x="79.95" y="470.3" font-size="10.5" text-anchor="middle" font-weight="normal" fill="#000" >1</text>
<rect x="90.50" y="390.01" width="13.3" height="59.99" fill="#000"/>
<line x1="97.15" y1="390.013" x2="97.15" y2="383.28799999999995" stroke="#000" stroke-width="1.5" />
<line x1="94.55000000000001" y1="383.28799999999995" x2="99.75" y2="383.28799999999995" stroke="#000" stroke-width="1.5" />
<text x="96.85000000000001" y="382.68799999999993" font-size="15.5" text-anchor="middle" font-weight="normal" fill="#000" stroke="#000" stroke-width="0.15">*</text>
<text x="97.45" y="470.3" font-size="10.5" text-anchor="middle" font-weight="normal" fill="#000" >10</text>
<clipPath id="bc1"><rect x="109.70" y="316.00" width="11.6" height="134.00"/></clipPath>
<rect x="109.70" y="316.00" width="11.6" height="134.00" fill="#fff"/>
<path d="M108.20,306.80 L122.80,317.02 M108.20,312.10 L122.80,322.32 M108.20,317.40 L122.80,327.62 M108.20,322.70 L122.80,332.92 M108.20,328.00 L122.80,338.22 M108.20,333.30 L122.80,343.52 M108.20,338.60 L122.80,348.82 M108.20,343.90 L122.80,354.12 M108.20,349.20 L122.80,359.42 M108.20,354.50 L122.80,364.72 M108.20,359.80 L122.80,370.02 M108.20,365.10 L122.80,375.32 M108.20,370.40 L122.80,380.62 M108.20,375.70 L122.80,385.92 M108.20,381.00 L122.80,391.22 M108.20,386.30 L122.80,396.52 M108.20,391.60 L122.80,401.82 M108.20,396.90 L122.80,407.12 M108.20,402.20 L122.80,412.42 M108.20,407.50 L122.80,417.72 M108.20,412.80 L122.80,423.02 M108.20,418.10 L122.80,428.32 M108.20,423.40 L122.80,433.62 M108.20,428.70 L122.80,438.92 M108.20,434.00 L122.80,444.22 M108.20,439.30 L122.80,449.52 M108.20,444.60 L122.80,454.82 M108.20,449.90 L122.80,460.12" stroke="#000" stroke-width="1.95" fill="none" clip-path="url(#bc1)"/>
<rect x="109.80" y="316.10" width="11.4" height="133.90" fill="none" stroke="#000" stroke-width="1.5"/>
<line x1="115.5" y1="315.5" x2="115.5" y2="296.939" stroke="#000" stroke-width="1.5" />
<line x1="112.9" y1="296.939" x2="118.1" y2="296.939" stroke="#000" stroke-width="1.5" />
<line x1="124.25" y1="450.0" x2="124.25" y2="452.8" stroke="#111" stroke-width="1.0" />
<text x="115.8" y="470.3" font-size="10.5" text-anchor="middle" font-weight="normal" fill="#000" >-</text>
<clipPath id="bc2"><rect x="127.20" y="317.88" width="11.6" height="132.12"/></clipPath>
<rect x="127.20" y="317.88" width="11.6" height="132.12" fill="#fff"/>
<path d="M125.70,309.86 L140.30,320.08 M125.70,315.16 L140.30,325.38 M125.70,320.46 L140.30,330.68 M125.70,325.76 L140.30,335.98 M125.70,331.06 L140.30,341.28 M125.70,336.36 L140.30,346.58 M125.70,341.66 L140.30,351.88 M125.70,346.96 L140.30,357.18 M125.70,352.26 L140.30,362.48 M125.70,357.56 L140.30,367.78 M125.70,362.86 L140.30,373.08 M125.70,368.16 L140.30,378.38 M125.70,373.46 L140.30,383.68 M125.70,378.76 L140.30,388.98 M125.70,384.06 L140.30,394.28 M125.70,389.36 L140.30,399.58 M125.70,394.66 L140.30,404.88 M125.70,399.96 L140.30,410.18 M125.70,405.26 L140.30,415.48 M125.70,410.56 L140.30,420.78 M125.70,415.86 L140.30,426.08 M125.70,421.16 L140.30,431.38 M125.70,426.46 L140.30,436.68 M125.70,431.76 L140.30,441.98 M125.70,437.06 L140.30,447.28 M125.70,442.36 L140.30,452.58 M125.70,447.66 L140.30,457.88" stroke="#000" stroke-width="1.95" fill="none" clip-path="url(#bc2)"/>
<rect x="127.30" y="317.98" width="11.4" height="132.02" fill="none" stroke="#000" stroke-width="1.5"/>
<line x1="133.0" y1="317.38300000000004" x2="133.0" y2="295.59400000000005" stroke="#000" stroke-width="1.5" />
<line x1="130.4" y1="295.59400000000005" x2="135.6" y2="295.59400000000005" stroke="#000" stroke-width="1.5" />
<line x1="141.75" y1="450.0" x2="141.75" y2="452.8" stroke="#111" stroke-width="1.0" />
<text x="133.3" y="470.3" font-size="10.5" text-anchor="middle" font-weight="normal" fill="#000" >0.1</text>
<clipPath id="bc3"><rect x="144.70" y="334.16" width="11.6" height="115.84"/></clipPath>
<rect x="144.70" y="334.16" width="11.6" height="115.84" fill="#fff"/>
<path d="M143.20,322.01 L157.80,332.23 M143.20,327.31 L157.80,337.53 M143.20,332.61 L157.80,342.83 M143.20,337.91 L157.80,348.13 M143.20,343.21 L157.80,353.43 M143.20,348.51 L157.80,358.73 M143.20,353.81 L157.80,364.03 M143.20,359.11 L157.80,369.33 M143.20,364.41 L157.80,374.63 M143.20,369.71 L157.80,379.93 M143.20,375.01 L157.80,385.23 M143.20,380.31 L157.80,390.53 M143.20,385.61 L157.80,395.83 M143.20,390.91 L157.80,401.13 M143.20,396.21 L157.80,406.43 M143.20,401.51 L157.80,411.73 M143.20,406.81 L157.80,417.03 M143.20,412.11 L157.80,422.33 M143.20,417.41 L157.80,427.63 M143.20,422.71 L157.80,432.93 M143.20,428.01 L157.80,438.23 M143.20,433.31 L157.80,443.53 M143.20,438.61 L157.80,448.83 M143.20,443.91 L157.80,454.13 M143.20,449.21 L157.80,459.43" stroke="#000" stroke-width="1.95" fill="none" clip-path="url(#bc3)"/>
<rect x="144.80" y="334.26" width="11.4" height="115.74" fill="none" stroke="#000" stroke-width="1.5"/>
<line x1="150.5" y1="333.6575" x2="150.5" y2="319.93850000000003" stroke="#000" stroke-width="1.5" />
<line x1="147.9" y1="319.93850000000003" x2="153.1" y2="319.93850000000003" stroke="#000" stroke-width="1.5" />
<line x1="159.24999999999997" y1="450.0" x2="159.24999999999997" y2="452.8" stroke="#111" stroke-width="1.0" />
<text x="150.8" y="470.3" font-size="10.5" text-anchor="middle" font-weight="normal" fill="#000" >1</text>
<clipPath id="bc4"><rect x="162.20" y="334.83" width="11.6" height="115.17"/></clipPath>
<rect x="162.20" y="334.83" width="11.6" height="115.17" fill="#fff"/>
<path d="M160.70,323.86 L175.30,334.08 M160.70,329.16 L175.30,339.38 M160.70,334.46 L175.30,344.68 M160.70,339.76 L175.30,349.98 M160.70,345.06 L175.30,355.28 M160.70,350.36 L175.30,360.58 M160.70,355.66 L175.30,365.88 M160.70,360.96 L175.30,371.18 M160.70,366.26 L175.30,376.48 M160.70,371.56 L175.30,381.78 M160.70,376.86 L175.30,387.08 M160.70,382.16 L175.30,392.38 M160.70,387.46 L175.30,397.68 M160.70,392.76 L175.30,402.98 M160.70,398.06 L175.30,408.28 M160.70,403.36 L175.30,413.58 M160.70,408.66 L175.30,418.88 M160.70,413.96 L175.30,424.18 M160.70,419.26 L175.30,429.48 M160.70,424.56 L175.30,434.78 M160.70,429.86 L175.30,440.08 M160.70,435.16 L175.30,445.38 M160.70,440.46 L175.30,450.68 M160.70,445.76 L175.30,455.98 M160.70,451.06 L175.30,461.28" stroke="#000" stroke-width="1.95" fill="none" clip-path="url(#bc4)"/>
<rect x="162.30" y="334.93" width="11.4" height="115.07" fill="none" stroke="#000" stroke-width="1.5"/>
<line x1="168.0" y1="334.33" x2="168.0" y2="308.10249999999996" stroke="#000" stroke-width="1.5" />
<line x1="165.4" y1="308.10249999999996" x2="170.6" y2="308.10249999999996" stroke="#000" stroke-width="1.5" />
<text x="168.3" y="470.3" font-size="10.5" text-anchor="middle" font-weight="normal" fill="#000" >10</text>
<clipPath id="bc5"><rect x="180.20" y="316.00" width="11.6" height="134.00"/></clipPath>
<rect x="180.20" y="316.00" width="11.6" height="134.00" fill="#fff"/>
<path d="M179.70,447.75 H192.30 M179.70,444.75 H192.30 M179.70,441.75 H192.30 M179.70,438.75 H192.30 M179.70,435.75 H192.30 M179.70,432.75 H192.30 M179.70,429.75 H192.30 M179.70,426.75 H192.30 M179.70,423.75 H192.30 M179.70,420.75 H192.30 M179.70,417.75 H192.30 M179.70,414.75 H192.30 M179.70,411.75 H192.30 M179.70,408.75 H192.30 M179.70,405.75 H192.30 M179.70,402.75 H192.30 M179.70,399.75 H192.30 M179.70,396.75 H192.30 M179.70,393.75 H192.30 M179.70,390.75 H192.30 M179.70,387.75 H192.30 M179.70,384.75 H192.30 M179.70,381.75 H192.30 M179.70,378.75 H192.30 M179.70,375.75 H192.30 M179.70,372.75 H192.30 M179.70,369.75 H192.30 M179.70,366.75 H192.30 M179.70,363.75 H192.30 M179.70,360.75 H192.30 M179.70,357.75 H192.30 M179.70,354.75 H192.30 M179.70,351.75 H192.30 M179.70,348.75 H192.30 M179.70,345.75 H192.30 M179.70,342.75 H192.30 M179.70,339.75 H192.30 M179.70,336.75 H192.30 M179.70,333.75 H192.30 M179.70,330.75 H192.30 M179.70,327.75 H192.30 M179.70,324.75 H192.30 M179.70,321.75 H192.30 M179.70,318.75 H192.30 M179.70,315.75 H192.30" stroke="#000" stroke-width="1.5" fill="none" clip-path="url(#bc5)"/>
<rect x="180.30" y="316.10" width="11.4" height="133.90" fill="none" stroke="#000" stroke-width="1.5"/>
<line x1="186.0" y1="315.5" x2="186.0" y2="296.67" stroke="#000" stroke-width="1.5" />
<line x1="183.4" y1="296.67" x2="188.6" y2="296.67" stroke="#000" stroke-width="1.5" />
<line x1="194.74999999999997" y1="450.0" x2="194.74999999999997" y2="452.8" stroke="#111" stroke-width="1.0" />
<text x="186.3" y="470.3" font-size="10.5" text-anchor="middle" font-weight="normal" fill="#000" >-</text>
<clipPath id="bc6"><rect x="197.70" y="331.74" width="11.6" height="118.26"/></clipPath>
<rect x="197.70" y="331.74" width="11.6" height="118.26" fill="#fff"/>
<path d="M197.20,447.75 H209.80 M197.20,444.75 H209.80 M197.20,441.75 H209.80 M197.20,438.75 H209.80 M197.20,435.75 H209.80 M197.20,432.75 H209.80 M197.20,429.75 H209.80 M197.20,426.75 H209.80 M197.20,423.75 H209.80 M197.20,420.75 H209.80 M197.20,417.75 H209.80 M197.20,414.75 H209.80 M197.20,411.75 H209.80 M197.20,408.75 H209.80 M197.20,405.75 H209.80 M197.20,402.75 H209.80 M197.20,399.75 H209.80 M197.20,396.75 H209.80 M197.20,393.75 H209.80 M197.20,390.75 H209.80 M197.20,387.75 H209.80 M197.20,384.75 H209.80 M197.20,381.75 H209.80 M197.20,378.75 H209.80 M197.20,375.75 H209.80 M197.20,372.75 H209.80 M197.20,369.75 H209.80 M197.20,366.75 H209.80 M197.20,363.75 H209.80 M197.20,360.75 H209.80 M197.20,357.75 H209.80 M197.20,354.75 H209.80 M197.20,351.75 H209.80 M197.20,348.75 H209.80 M197.20,345.75 H209.80 M197.20,342.75 H209.80 M197.20,339.75 H209.80 M197.20,336.75 H209.80 M197.20,333.75 H209.80" stroke="#000" stroke-width="1.5" fill="none" clip-path="url(#bc6)"/>
<rect x="197.80" y="331.84" width="11.4" height="118.16" fill="none" stroke="#000" stroke-width="1.5"/>
<line x1="203.5" y1="331.2365" x2="203.5" y2="319.26599999999996" stroke="#000" stroke-width="1.5" />
<line x1="200.9" y1="319.26599999999996" x2="206.1" y2="319.26599999999996" stroke="#000" stroke-width="1.5" />
<line x1="212.24999999999997" y1="450.0" x2="212.24999999999997" y2="452.8" stroke="#111" stroke-width="1.0" />
<text x="203.8" y="470.3" font-size="10.5" text-anchor="middle" font-weight="normal" fill="#000" >0.1</text>
<clipPath id="bc7"><rect x="215.20" y="339.27" width="11.6" height="110.73"/></clipPath>
<rect x="215.20" y="339.27" width="11.6" height="110.73" fill="#fff"/>
<path d="M214.70,447.75 H227.30 M214.70,444.75 H227.30 M214.70,441.75 H227.30 M214.70,438.75 H227.30 M214.70,435.75 H227.30 M214.70,432.75 H227.30 M214.70,429.75 H227.30 M214.70,426.75 H227.30 M214.70,423.75 H227.30 M214.70,420.75 H227.30 M214.70,417.75 H227.30 M214.70,414.75 H227.30 M214.70,411.75 H227.30 M214.70,408.75 H227.30 M214.70,405.75 H227.30 M214.70,402.75 H227.30 M214.70,399.75 H227.30 M214.70,396.75 H227.30 M214.70,393.75 H227.30 M214.70,390.75 H227.30 M214.70,387.75 H227.30 M214.70,384.75 H227.30 M214.70,381.75 H227.30 M214.70,378.75 H227.30 M214.70,375.75 H227.30 M214.70,372.75 H227.30 M214.70,369.75 H227.30 M214.70,366.75 H227.30 M214.70,363.75 H227.30 M214.70,360.75 H227.30 M214.70,357.75 H227.30 M214.70,354.75 H227.30 M214.70,351.75 H227.30 M214.70,348.75 H227.30 M214.70,345.75 H227.30 M214.70,342.75 H227.30 M214.70,339.75 H227.30" stroke="#000" stroke-width="1.5" fill="none" clip-path="url(#bc7)"/>
<rect x="215.30" y="339.37" width="11.4" height="110.63" fill="none" stroke="#000" stroke-width="1.5"/>
<line x1="221.0" y1="338.7685" x2="221.0" y2="310.7925" stroke="#000" stroke-width="1.5" />
<line x1="218.4" y1="310.7925" x2="223.6" y2="310.7925" stroke="#000" stroke-width="1.5" />
<line x1="229.74999999999997" y1="450.0" x2="229.74999999999997" y2="452.8" stroke="#111" stroke-width="1.0" />
<text x="221.3" y="470.3" font-size="10.5" text-anchor="middle" font-weight="normal" fill="#000" >1</text>
<clipPath id="bc8"><rect x="232.70" y="382.98" width="11.6" height="67.02"/></clipPath>
<rect x="232.70" y="382.98" width="11.6" height="67.02" fill="#fff"/>
<path d="M232.20,447.75 H244.80 M232.20,444.75 H244.80 M232.20,441.75 H244.80 M232.20,438.75 H244.80 M232.20,435.75 H244.80 M232.20,432.75 H244.80 M232.20,429.75 H244.80 M232.20,426.75 H244.80 M232.20,423.75 H244.80 M232.20,420.75 H244.80 M232.20,417.75 H244.80 M232.20,414.75 H244.80 M232.20,411.75 H244.80 M232.20,408.75 H244.80 M232.20,405.75 H244.80 M232.20,402.75 H244.80 M232.20,399.75 H244.80 M232.20,396.75 H244.80 M232.20,393.75 H244.80 M232.20,390.75 H244.80 M232.20,387.75 H244.80 M232.20,384.75 H244.80" stroke="#000" stroke-width="1.5" fill="none" clip-path="url(#bc8)"/>
<rect x="232.80" y="383.08" width="11.4" height="66.92" fill="none" stroke="#000" stroke-width="1.5"/>
<line x1="238.5" y1="382.481" x2="238.5" y2="358.002" stroke="#000" stroke-width="1.5" />
<line x1="235.9" y1="358.002" x2="241.1" y2="358.002" stroke="#000" stroke-width="1.5" />
<text x="238.2" y="357.402" font-size="15.5" text-anchor="middle" font-weight="normal" fill="#000" stroke="#000" stroke-width="0.15">*</text>
<text x="238.8" y="470.3" font-size="10.5" text-anchor="middle" font-weight="normal" fill="#000" >10</text>
<text x="38.5" y="261" font-size="10.0" text-anchor="start" font-weight="normal" fill="#000" textLength="64.5" lengthAdjust="spacingAndGlyphs">Control Beads</text>
<text x="106.3" y="261" font-size="10.0" text-anchor="start" font-weight="normal" fill="#000" textLength="70.6" lengthAdjust="spacingAndGlyphs">CD45 Depletion</text>
<text x="182" y="261" font-size="10.0" text-anchor="start" font-weight="normal" fill="#000" textLength="70.8" lengthAdjust="spacingAndGlyphs">Add back CD45</text>
<text x="110" y="493" font-size="11.4" text-anchor="start" font-weight="bold" fill="#000" >IL-3 (ng/mL)</text>
<text transform="translate(10 361.4) rotate(-90)" font-size="11.05" text-anchor="middle" font-weight="bold" fill="#000">ALP % control</text>
<polyline points="127.5,292.5 127.5,285.5 172.5,285.5 172.5,292.5" fill="none" stroke="#888" stroke-width="1"/>
<text x="153" y="281.3" font-size="12.6" text-anchor="middle" font-weight="normal" fill="#000" >N.S.</text>
<line x1="303.2" y1="261" x2="303.2" y2="474" stroke="#111" stroke-width="1.3" />
<line x1="302.7" y1="450.0" x2="513.1" y2="450.0" stroke="#111" stroke-width="1.4" />
<line x1="301.2" y1="450.0" x2="303.2" y2="450.0" stroke="#111" stroke-width="1.1" />
<text x="300.59999999999997" y="451.6" font-size="9" text-anchor="end" font-weight="normal" fill="#000" >0</text>
<line x1="301.2" y1="426.28" x2="303.2" y2="426.28" stroke="#111" stroke-width="1.1" />
<text x="300.59999999999997" y="427.88" font-size="9" text-anchor="end" font-weight="normal" fill="#000" >20</text>
<line x1="301.2" y1="402.56" x2="303.2" y2="402.56" stroke="#111" stroke-width="1.1" />
<text x="300.59999999999997" y="404.16" font-size="9" text-anchor="end" font-weight="normal" fill="#000" >40</text>
<line x1="301.2" y1="378.84000000000003" x2="303.2" y2="378.84000000000003" stroke="#111" stroke-width="1.1" />
<text x="300.59999999999997" y="380.44000000000005" font-size="9" text-anchor="end" font-weight="normal" fill="#000" >60</text>
<line x1="301.2" y1="355.12" x2="303.2" y2="355.12" stroke="#111" stroke-width="1.1" />
<text x="300.59999999999997" y="357.32000000000005" font-size="11.2" text-anchor="end" font-weight="normal" fill="#000" >80</text>
<line x1="301.2" y1="331.4" x2="303.2" y2="331.4" stroke="#111" stroke-width="1.1" />
<text x="300.59999999999997" y="333.6" font-size="11.2" text-anchor="end" font-weight="normal" fill="#000" >100</text>
<line x1="301.2" y1="307.68" x2="303.2" y2="307.68" stroke="#111" stroke-width="1.1" />
<text x="300.59999999999997" y="309.88000000000005" font-size="11.2" text-anchor="end" font-weight="normal" fill="#000" >120</text>
<line x1="301.2" y1="283.96000000000004" x2="303.2" y2="283.96000000000004" stroke="#111" stroke-width="1.1" />
<text x="300.59999999999997" y="286.1600000000001" font-size="11.2" text-anchor="end" font-weight="normal" fill="#000" >140</text>
<line x1="301.2" y1="260.24" x2="303.2" y2="260.24" stroke="#111" stroke-width="1.1" />
<text x="300.59999999999997" y="262.44000000000005" font-size="11.2" text-anchor="end" font-weight="normal" fill="#000" >160</text>
<line x1="373.7" y1="262" x2="373.7" y2="475.5" stroke="#111" stroke-width="1.2" />
<line x1="443.8" y1="262" x2="443.8" y2="475.5" stroke="#111" stroke-width="1.2" />
<line x1="513.1" y1="262" x2="513.1" y2="475.5" stroke="#111" stroke-width="1.2" />
<rect x="305.60" y="331.40" width="13.3" height="118.60" fill="#000"/>
<line x1="312.25" y1="331.4" x2="312.25" y2="306.1382" stroke="#000" stroke-width="1.5" />
<line x1="309.65" y1="306.1382" x2="314.85" y2="306.1382" stroke="#000" stroke-width="1.5" />
<line x1="321.00000000000006" y1="450.0" x2="321.00000000000006" y2="452.8" stroke="#111" stroke-width="1.0" />
<text x="312.55" y="470.3" font-size="10.5" text-anchor="middle" font-weight="normal" fill="#000" >-</text>
<rect x="323.10" y="378.84" width="13.3" height="71.16" fill="#000"/>
<line x1="329.75" y1="378.84000000000003" x2="329.75" y2="360.1012" stroke="#000" stroke-width="1.5" />
<line x1="327.15" y1="360.1012" x2="332.35" y2="360.1012" stroke="#000" stroke-width="1.5" />
<line x1="338.50000000000006" y1="450.0" x2="338.50000000000006" y2="452.8" stroke="#111" stroke-width="1.0" />
<text x="330.05" y="470.3" font-size="10.5" text-anchor="middle" font-weight="normal" fill="#000" >0.1</text>
<rect x="340.60" y="405.76" width="13.3" height="44.24" fill="#000"/>
<line x1="347.25" y1="405.7622" x2="347.25" y2="400.781" stroke="#000" stroke-width="1.5" />
<line x1="344.65" y1="400.781" x2="349.85" y2="400.781" stroke="#000" stroke-width="1.5" />
<text x="346.95" y="400.181" font-size="15.5" text-anchor="middle" font-weight="normal" fill="#000" stroke="#000" stroke-width="0.15">*</text>
<line x1="356.00000000000006" y1="450.0" x2="356.00000000000006" y2="452.8" stroke="#111" stroke-width="1.0" />
<text x="347.55" y="470.3" font-size="10.5" text-anchor="middle" font-weight="normal" fill="#000" >1</text>
<rect x="358.10" y="416.20" width="13.3" height="33.80" fill="#000"/>
<line x1="364.75" y1="416.199" x2="364.75" y2="408.72720000000004" stroke="#000" stroke-width="1.5" />
<line x1="362.15" y1="408.72720000000004" x2="367.35" y2="408.72720000000004" stroke="#000" stroke-width="1.5" />
<text x="364.45" y="408.1272" font-size="15.5" text-anchor="middle" font-weight="normal" fill="#000" stroke="#000" stroke-width="0.15">*</text>
<text x="365.05" y="470.3" font-size="10.5" text-anchor="middle" font-weight="normal" fill="#000" >10</text>
<clipPath id="bc9"><rect x="376.70" y="331.90" width="11.6" height="118.10"/></clipPath>
<rect x="376.70" y="331.90" width="11.6" height="118.10" fill="#fff"/>
<path d="M375.20,320.79 L389.80,331.01 M375.20,326.09 L389.80,336.31 M375.20,331.39 L389.80,341.61 M375.20,336.69 L389.80,346.91 M375.20,341.99 L389.80,352.21 M375.20,347.29 L389.80,357.51 M375.20,352.59 L389.80,362.81 M375.20,357.89 L389.80,368.11 M375.20,363.19 L389.80,373.41 M375.20,368.49 L389.80,378.71 M375.20,373.79 L389.80,384.01 M375.20,379.09 L389.80,389.31 M375.20,384.39 L389.80,394.61 M375.20,389.69 L389.80,399.91 M375.20,394.99 L389.80,405.21 M375.20,400.29 L389.80,410.51 M375.20,405.59 L389.80,415.81 M375.20,410.89 L389.80,421.11 M375.20,416.19 L389.80,426.41 M375.20,421.49 L389.80,431.71 M375.20,426.79 L389.80,437.01 M375.20,432.09 L389.80,442.31 M375.20,437.39 L389.80,447.61 M375.20,442.69 L389.80,452.91 M375.20,447.99 L389.80,458.21" stroke="#000" stroke-width="1.95" fill="none" clip-path="url(#bc9)"/>
<rect x="376.80" y="332.00" width="11.4" height="118.00" fill="none" stroke="#000" stroke-width="1.5"/>
<line x1="382.5" y1="331.4" x2="382.5" y2="324.40259999999995" stroke="#000" stroke-width="1.5" />
<line x1="379.9" y1="324.40259999999995" x2="385.1" y2="324.40259999999995" stroke="#000" stroke-width="1.5" />
<line x1="391.25" y1="450.0" x2="391.25" y2="452.8" stroke="#111" stroke-width="1.0" />
<text x="382.8" y="470.3" font-size="10.5" text-anchor="middle" font-weight="normal" fill="#000" >-</text>
<clipPath id="bc10"><rect x="394.20" y="387.29" width="11.6" height="62.71"/></clipPath>
<rect x="394.20" y="387.29" width="11.6" height="62.71" fill="#fff"/>
<path d="M392.70,377.36 L407.30,387.58 M392.70,382.66 L407.30,392.88 M392.70,387.96 L407.30,398.18 M392.70,393.26 L407.30,403.48 M392.70,398.56 L407.30,408.78 M392.70,403.86 L407.30,414.08 M392.70,409.16 L407.30,419.38 M392.70,414.46 L407.30,424.68 M392.70,419.76 L407.30,429.98 M392.70,425.06 L407.30,435.28 M392.70,430.36 L407.30,440.58 M392.70,435.66 L407.30,445.88 M392.70,440.96 L407.30,451.18 M392.70,446.26 L407.30,456.48 M392.70,451.56 L407.30,461.78" stroke="#000" stroke-width="1.95" fill="none" clip-path="url(#bc10)"/>
<rect x="394.30" y="387.39" width="11.4" height="62.61" fill="none" stroke="#000" stroke-width="1.5"/>
<line x1="400.0" y1="386.7862" x2="400.0" y2="366.98" stroke="#000" stroke-width="1.5" />
<line x1="397.4" y1="366.98" x2="402.6" y2="366.98" stroke="#000" stroke-width="1.5" />
<text x="399.7" y="366.38" font-size="15.5" text-anchor="middle" font-weight="normal" fill="#000" stroke="#000" stroke-width="0.15">*</text>
<line x1="408.75" y1="450.0" x2="408.75" y2="452.8" stroke="#111" stroke-width="1.0" />
<text x="400.3" y="470.3" font-size="10.5" text-anchor="middle" font-weight="normal" fill="#000" >0.1</text>
<clipPath id="bc11"><rect x="411.70" y="411.01" width="11.6" height="38.99"/></clipPath>
<rect x="411.70" y="411.01" width="11.6" height="38.99" fill="#fff"/>
<path d="M410.20,402.25 L424.80,412.47 M410.20,407.55 L424.80,417.77 M410.20,412.85 L424.80,423.07 M410.20,418.15 L424.80,428.37 M410.20,423.45 L424.80,433.67 M410.20,428.75 L424.80,438.97 M410.20,434.05 L424.80,444.27 M410.20,439.35 L424.80,449.57 M410.20,444.65 L424.80,454.87 M410.20,449.95 L424.80,460.17" stroke="#000" stroke-width="1.95" fill="none" clip-path="url(#bc11)"/>
<rect x="411.80" y="411.11" width="11.4" height="38.89" fill="none" stroke="#000" stroke-width="1.5"/>
<line x1="417.5" y1="410.50620000000004" x2="417.5" y2="407.54120000000006" stroke="#000" stroke-width="1.5" />
<line x1="414.9" y1="407.54120000000006" x2="420.1" y2="407.54120000000006" stroke="#000" stroke-width="1.5" />
<text x="417.2" y="406.94120000000004" font-size="15.5" text-anchor="middle" font-weight="normal" fill="#000" stroke="#000" stroke-width="0.15">*</text>
<line x1="426.25" y1="450.0" x2="426.25" y2="452.8" stroke="#111" stroke-width="1.0" />
<text x="417.8" y="470.3" font-size="10.5" text-anchor="middle" font-weight="normal" fill="#000" >1</text>
<clipPath id="bc12"><rect x="429.20" y="425.00" width="11.6" height="25.00"/></clipPath>
<rect x="429.20" y="425.00" width="11.6" height="25.00" fill="#fff"/>
<path d="M427.70,417.42 L442.30,427.64 M427.70,422.72 L442.30,432.94 M427.70,428.02 L442.30,438.24 M427.70,433.32 L442.30,443.54 M427.70,438.62 L442.30,448.84 M427.70,443.92 L442.30,454.14 M427.70,449.22 L442.30,459.44" stroke="#000" stroke-width="1.95" fill="none" clip-path="url(#bc12)"/>
<rect x="429.30" y="425.10" width="11.4" height="24.90" fill="none" stroke="#000" stroke-width="1.5"/>
<line x1="435.0" y1="424.501" x2="435.0" y2="422.95919999999995" stroke="#000" stroke-width="1.5" />
<line x1="432.4" y1="422.95919999999995" x2="437.6" y2="422.95919999999995" stroke="#000" stroke-width="1.5" />
<text x="434.7" y="422.35919999999993" font-size="15.5" text-anchor="middle" font-weight="normal" fill="#000" stroke="#000" stroke-width="0.15">*</text>
<text x="435.3" y="470.3" font-size="10.5" text-anchor="middle" font-weight="normal" fill="#000" >10</text>
<clipPath id="bc13"><rect x="446.70" y="331.90" width="11.6" height="118.10"/></clipPath>
<rect x="446.70" y="331.90" width="11.6" height="118.10" fill="#fff"/>
<path d="M446.20,447.75 H458.80 M446.20,444.75 H458.80 M446.20,441.75 H458.80 M446.20,438.75 H458.80 M446.20,435.75 H458.80 M446.20,432.75 H458.80 M446.20,429.75 H458.80 M446.20,426.75 H458.80 M446.20,423.75 H458.80 M446.20,420.75 H458.80 M446.20,417.75 H458.80 M446.20,414.75 H458.80 M446.20,411.75 H458.80 M446.20,408.75 H458.80 M446.20,405.75 H458.80 M446.20,402.75 H458.80 M446.20,399.75 H458.80 M446.20,396.75 H458.80 M446.20,393.75 H458.80 M446.20,390.75 H458.80 M446.20,387.75 H458.80 M446.20,384.75 H458.80 M446.20,381.75 H458.80 M446.20,378.75 H458.80 M446.20,375.75 H458.80 M446.20,372.75 H458.80 M446.20,369.75 H458.80 M446.20,366.75 H458.80 M446.20,363.75 H458.80 M446.20,360.75 H458.80 M446.20,357.75 H458.80 M446.20,354.75 H458.80 M446.20,351.75 H458.80 M446.20,348.75 H458.80 M446.20,345.75 H458.80 M446.20,342.75 H458.80 M446.20,339.75 H458.80 M446.20,336.75 H458.80 M446.20,333.75 H458.80" stroke="#000" stroke-width="1.5" fill="none" clip-path="url(#bc13)"/>
<rect x="446.80" y="332.00" width="11.4" height="118.00" fill="none" stroke="#000" stroke-width="1.5"/>
<line x1="452.5" y1="331.4" x2="452.5" y2="287.1622" stroke="#000" stroke-width="1.5" />
<line x1="449.9" y1="287.1622" x2="455.1" y2="287.1622" stroke="#000" stroke-width="1.5" />
<line x1="461.25" y1="450.0" x2="461.25" y2="452.8" stroke="#111" stroke-width="1.0" />
<text x="452.8" y="470.3" font-size="10.5" text-anchor="middle" font-weight="normal" fill="#000" >-</text>
<clipPath id="bc14"><rect x="464.20" y="403.77" width="11.6" height="46.23"/></clipPath>
<rect x="464.20" y="403.77" width="11.6" height="46.23" fill="#fff"/>
<path d="M463.70,447.75 H476.30 M463.70,444.75 H476.30 M463.70,441.75 H476.30 M463.70,438.75 H476.30 M463.70,435.75 H476.30 M463.70,432.75 H476.30 M463.70,429.75 H476.30 M463.70,426.75 H476.30 M463.70,423.75 H476.30 M463.70,420.75 H476.30 M463.70,417.75 H476.30 M463.70,414.75 H476.30 M463.70,411.75 H476.30 M463.70,408.75 H476.30 M463.70,405.75 H476.30" stroke="#000" stroke-width="1.5" fill="none" clip-path="url(#bc14)"/>
<rect x="464.30" y="403.87" width="11.4" height="46.13" fill="none" stroke="#000" stroke-width="1.5"/>
<line x1="470.0" y1="403.27160000000003" x2="470.0" y2="391.29300000000006" stroke="#000" stroke-width="1.5" />
<line x1="467.4" y1="391.29300000000006" x2="472.6" y2="391.29300000000006" stroke="#000" stroke-width="1.5" />
<line x1="478.75" y1="450.0" x2="478.75" y2="452.8" stroke="#111" stroke-width="1.0" />
<text x="470.3" y="470.3" font-size="10.5" text-anchor="middle" font-weight="normal" fill="#000" >0.1</text>
<clipPath id="bc15"><rect x="481.70" y="410.53" width="11.6" height="39.47"/></clipPath>
<rect x="481.70" y="410.53" width="11.6" height="39.47" fill="#fff"/>
<path d="M481.20,447.75 H493.80 M481.20,444.75 H493.80 M481.20,441.75 H493.80 M481.20,438.75 H493.80 M481.20,435.75 H493.80 M481.20,432.75 H493.80 M481.20,429.75 H493.80 M481.20,426.75 H493.80 M481.20,423.75 H493.80 M481.20,420.75 H493.80 M481.20,417.75 H493.80 M481.20,414.75 H493.80 M481.20,411.75 H493.80" stroke="#000" stroke-width="1.5" fill="none" clip-path="url(#bc15)"/>
<rect x="481.80" y="410.63" width="11.4" height="39.37" fill="none" stroke="#000" stroke-width="1.5"/>
<line x1="487.5" y1="410.0318" x2="487.5" y2="400.5438" stroke="#000" stroke-width="1.5" />
<line x1="484.9" y1="400.5438" x2="490.1" y2="400.5438" stroke="#000" stroke-width="1.5" />
<line x1="496.25" y1="450.0" x2="496.25" y2="452.8" stroke="#111" stroke-width="1.0" />
<text x="487.8" y="470.3" font-size="10.5" text-anchor="middle" font-weight="normal" fill="#000" >1</text>
<clipPath id="bc16"><rect x="499.20" y="411.24" width="11.6" height="38.76"/></clipPath>
<rect x="499.20" y="411.24" width="11.6" height="38.76" fill="#fff"/>
<path d="M498.70,447.75 H511.30 M498.70,444.75 H511.30 M498.70,441.75 H511.30 M498.70,438.75 H511.30 M498.70,435.75 H511.30 M498.70,432.75 H511.30 M498.70,429.75 H511.30 M498.70,426.75 H511.30 M498.70,423.75 H511.30 M498.70,420.75 H511.30 M498.70,417.75 H511.30 M498.70,414.75 H511.30 M498.70,411.75 H511.30" stroke="#000" stroke-width="1.5" fill="none" clip-path="url(#bc16)"/>
<rect x="499.30" y="411.34" width="11.4" height="38.66" fill="none" stroke="#000" stroke-width="1.5"/>
<line x1="505.0" y1="410.7434" x2="505.0" y2="406.9482" stroke="#000" stroke-width="1.5" />
<line x1="502.4" y1="406.9482" x2="507.6" y2="406.9482" stroke="#000" stroke-width="1.5" />
<text x="504.7" y="406.34819999999996" font-size="15.5" text-anchor="middle" font-weight="normal" fill="#000" stroke="#000" stroke-width="0.15">*</text>
<text x="505.3" y="470.3" font-size="10.5" text-anchor="middle" font-weight="normal" fill="#000" >10</text>
<text x="306.2" y="260.2" font-size="10.0" text-anchor="start" font-weight="normal" fill="#000" textLength="63.6" lengthAdjust="spacingAndGlyphs">Control Beads</text>
<text x="372.6" y="260.2" font-size="10.0" text-anchor="start" font-weight="normal" fill="#000" textLength="70.8" lengthAdjust="spacingAndGlyphs">CD45 Depletion</text>
<text x="448.3" y="260.2" font-size="10.0" text-anchor="start" font-weight="normal" fill="#000" textLength="70.5" lengthAdjust="spacingAndGlyphs">Add back CD45</text>
<text x="381" y="493" font-size="11.4" text-anchor="start" font-weight="bold" fill="#000" >TNF<tspan font-weight="normal" font-size="13.8">α</tspan> (ng/mL)</text>
<text transform="translate(277.2 370.8) rotate(-90)" font-size="11.7" text-anchor="middle" font-weight="bold" fill="#000">ALP % control</text>
<text x="172.6" y="553.8" font-size="14.9" text-anchor="middle" font-weight="bold" fill="#000" >Total BM CELLS</text>
<text x="400.9" y="553.8" font-size="14.8" text-anchor="middle" font-weight="bold" fill="#000">CD45<tspan dy="-5" font-size="10">-</tspan><tspan dy="5"> BM CELLS</tspan></text>
<text x="42" y="608" font-size="14.8" text-anchor="start" font-weight="bold" fill="#000" >CFU-F</text>
<text x="113.8" y="658.5" font-size="13.5" text-anchor="start" font-weight="normal" fill="#000" >Control</text>
<text x="170.2" y="658.5" font-size="13.5" text-anchor="start" font-weight="normal" fill="#000" >Control + IL-3</text>
<text x="339.8" y="658.5" font-size="13.5" text-anchor="start" font-weight="normal" fill="#000" >Control</text>
<text x="396.2" y="658.5" font-size="13.5" text-anchor="start" font-weight="normal" fill="#000" >Control + IL-3</text>
<text x="180.2" y="690.8" font-size="15" text-anchor="middle" font-weight="normal" fill="#000" >Total BM cells</text>
<text x="407" y="691.3" font-size="14.5" text-anchor="middle" fill="#111">CD45<tspan dy="-5" font-size="10">-</tspan><tspan dy="5"> BM cells</tspan></text>
<g filter="url(#soft)">
<g clip-path="url(#pc1)">
<rect x="99.3" y="566.7" width="147.6" height="69.8" fill="url(#bg1)"/>
<rect x="99.3" y="566.7" width="147.6" height="69.8" fill="url(#bg1b)"/>
<rect x="99.3" y="566.7" width="147.6" height="69.8" fill="#808080" filter="url(#bgnoise)" opacity="0.25"/>
<circle cx="137.6" cy="601.3" r="34.0" fill="none" stroke="url(#rimg)" stroke-width="7.6"/>
<circle cx="137.6" cy="601.3" r="37.6" fill="none" stroke="#9a9a9a" stroke-width="0.7" opacity="0.7"/>
<circle cx="137.6" cy="601.3" r="34.8" fill="none" stroke="#8a8a8a" stroke-width="0.7" opacity="0.7"/>
<circle cx="137.6" cy="601.3" r="31.2" fill="none" stroke="#7a7a7a" stroke-width="1.5" opacity="0.8"/>
<circle cx="137.6" cy="601.3" r="30.2" fill="url(#d1)"/>
<g clip-path="url(#dcd1)">
<ellipse cx="127.0" cy="616.4" rx="15.1" ry="12.1" fill="#5a5a5a" opacity="0.55" filter="url(#pblur)"/>
<ellipse cx="152.7" cy="598.3" rx="12.1" ry="18.1" fill="#9c9c9c" opacity="0.5" filter="url(#pblur)"/>
<ellipse cx="122.5" cy="593.8" rx="9.1" ry="12.1" fill="#6a6a6a" opacity="0.4" filter="url(#pblur)"/>
</g>
<circle cx="137.6" cy="601.3" r="30.2" fill="#808080" filter="url(#m1)" opacity="0.5"/>
<path d="M115.9,579.6 A30.8,30.8 0 0 1 159.3,579.6" fill="none" stroke="#2a2a2a" stroke-width="1.6" opacity="0.55"/>
<circle cx="212.6" cy="602.8" r="33.3" fill="none" stroke="url(#rimg)" stroke-width="7.6"/>
<circle cx="212.6" cy="602.8" r="36.9" fill="none" stroke="#9a9a9a" stroke-width="0.7" opacity="0.7"/>
<circle cx="212.6" cy="602.8" r="34.1" fill="none" stroke="#8a8a8a" stroke-width="0.7" opacity="0.7"/>
<circle cx="212.6" cy="602.8" r="30.5" fill="none" stroke="#7a7a7a" stroke-width="1.5" opacity="0.8"/>
<circle cx="212.6" cy="602.8" r="29.5" fill="url(#d2)"/>
<g clip-path="url(#dcd2)">
<ellipse cx="215.5" cy="605.8" rx="13.3" ry="11.8" fill="#b0b0b0" opacity="0.45" filter="url(#pblur)"/>
<ellipse cx="200.8" cy="589.5" rx="10.3" ry="8.8" fill="#858585" opacity="0.5" filter="url(#pblur)"/>
<ellipse cx="221.4" cy="620.5" rx="13.3" ry="8.8" fill="#a8a8a8" opacity="0.4" filter="url(#pblur)"/>
</g>
<circle cx="212.6" cy="602.8" r="29.5" fill="#808080" filter="url(#m2)" opacity="0.38"/>
<path d="M191.4,581.6 A30.1,30.1 0 0 1 233.8,581.6" fill="none" stroke="#2a2a2a" stroke-width="1.6" opacity="0.55"/>
</g>
<rect x="99.3" y="566.5" width="147.6" height="4.5" fill="url(#topband)"/>
<rect x="99.3" y="566.7" width="1.3" height="69.8" fill="#555" opacity="0.55"/>
<g clip-path="url(#pc2)">
<rect x="325.7" y="567.7" width="147.5" height="70.3" fill="url(#bg2)"/>
<rect x="325.7" y="567.7" width="147.5" height="70.3" fill="#808080" filter="url(#bgnoise)" opacity="0.25"/>
<circle cx="362.5" cy="603.4" r="33.5" fill="none" stroke="url(#rimg2)" stroke-width="6.4"/>
<circle cx="362.5" cy="603.4" r="36.6" fill="none" stroke="#505050" stroke-width="0.9" opacity="0.85"/>
<circle cx="362.5" cy="603.4" r="34.1" fill="none" stroke="#888" stroke-width="0.7" opacity="0.7"/>
<circle cx="362.5" cy="603.4" r="31.3" fill="none" stroke="#555" stroke-width="1.6" opacity="0.85"/>
<circle cx="362.5" cy="603.4" r="30.3" fill="url(#d3)"/>
<g clip-path="url(#dcd3)">
<ellipse cx="348.9" cy="621.6" rx="12.7" ry="9.1" fill="#d4d4d4" opacity="0.95" filter="url(#pblur)"/>
<ellipse cx="376.1" cy="621.0" rx="12.7" ry="9.7" fill="#a8a8a8" opacity="0.8" filter="url(#pblur)"/>
<ellipse cx="362.5" cy="592.8" rx="21.2" ry="13.6" fill="#2e2e2e" opacity="0.7" filter="url(#pblur)"/>
<ellipse cx="339.8" cy="600.4" rx="7.6" ry="15.2" fill="#777" opacity="0.5" filter="url(#pblur)"/>
<ellipse cx="386.1" cy="601.9" rx="6.7" ry="15.2" fill="#707070" opacity="0.5" filter="url(#pblur)"/>
<ellipse cx="362.5" cy="614.0" rx="6.7" ry="15.2" fill="#444" opacity="0.5" filter="url(#pblur)"/>
</g>
<circle cx="362.5" cy="603.4" r="30.3" fill="#808080" filter="url(#m3)" opacity="0.5"/>
<path d="M340.7,581.6 A30.900000000000002,30.900000000000002 0 0 1 384.3,581.6" fill="none" stroke="#2a2a2a" stroke-width="1.6" opacity="0.3"/>
<circle cx="438.4" cy="603.4" r="33.800000000000004" fill="none" stroke="url(#rimg2)" stroke-width="6.4"/>
<circle cx="438.4" cy="603.4" r="36.9" fill="none" stroke="#505050" stroke-width="0.9" opacity="0.85"/>
<circle cx="438.4" cy="603.4" r="34.4" fill="none" stroke="#888" stroke-width="0.7" opacity="0.7"/>
<circle cx="438.4" cy="603.4" r="31.6" fill="none" stroke="#555" stroke-width="1.6" opacity="0.85"/>
<circle cx="438.4" cy="603.4" r="30.6" fill="url(#d4)"/>
<g clip-path="url(#dcd4)">
<ellipse cx="442.1" cy="599.7" rx="6.1" ry="6.1" fill="#a8a8a8" opacity="0.75" filter="url(#pblur)"/>
<ellipse cx="438.4" cy="625.4" rx="15.3" ry="8.3" fill="#bcbcbc" opacity="0.9" filter="url(#pblur)"/>
<ellipse cx="427.7" cy="589.6" rx="12.2" ry="9.2" fill="#333" opacity="0.7" filter="url(#pblur)"/>
<ellipse cx="452.2" cy="589.6" rx="10.7" ry="9.2" fill="#383838" opacity="0.65" filter="url(#pblur)"/>
<ellipse cx="421.6" cy="612.6" rx="9.2" ry="9.2" fill="#9a9a9a" opacity="0.65" filter="url(#pblur)"/>
<ellipse cx="456.8" cy="614.1" rx="9.2" ry="9.2" fill="#909090" opacity="0.6" filter="url(#pblur)"/>
<ellipse cx="429.2" cy="601.9" rx="4.6" ry="4.6" fill="#909090" opacity="0.6" filter="url(#pblur)"/>
</g>
<circle cx="438.4" cy="603.4" r="30.6" fill="#808080" filter="url(#m4)" opacity="0.5"/>
<path d="M416.4,581.4 A31.200000000000003,31.200000000000003 0 0 1 460.4,581.4" fill="none" stroke="#2a2a2a" stroke-width="1.6" opacity="0.3"/>
</g>
</g>
<line x1="122" y1="697.5" x2="122" y2="874.8" stroke="#666" stroke-width="1" />
<line x1="122" y1="874.8" x2="226.3" y2="874.8" stroke="#666" stroke-width="1" />
<line x1="120.2" y1="874.8" x2="122" y2="874.8" stroke="#666" stroke-width="0.9" />
<text x="119.6" y="878.0999999999999" font-size="9.4" text-anchor="end" font-weight="normal" fill="#000" >0</text>
<line x1="120.2" y1="845.25" x2="122" y2="845.25" stroke="#666" stroke-width="0.9" />
<text x="119.6" y="848.55" font-size="9.4" text-anchor="end" font-weight="normal" fill="#000" >500</text>
<line x1="120.2" y1="815.6999999999999" x2="122" y2="815.6999999999999" stroke="#666" stroke-width="0.9" />
<text x="119.6" y="818.9999999999999" font-size="9.4" text-anchor="end" font-weight="normal" fill="#000" >1000</text>
<line x1="120.2" y1="786.15" x2="122" y2="786.15" stroke="#666" stroke-width="0.9" />
<text x="119.6" y="789.4499999999999" font-size="9.4" text-anchor="end" font-weight="normal" fill="#000" >1500</text>
<line x1="120.2" y1="756.5999999999999" x2="122" y2="756.5999999999999" stroke="#666" stroke-width="0.9" />
<text x="119.6" y="759.8999999999999" font-size="9.4" text-anchor="end" font-weight="normal" fill="#000" >2000</text>
<line x1="120.2" y1="727.05" x2="122" y2="727.05" stroke="#666" stroke-width="0.9" />
<text x="119.6" y="730.3499999999999" font-size="9.4" text-anchor="end" font-weight="normal" fill="#000" >2500</text>
<line x1="120.2" y1="697.5" x2="122" y2="697.5" stroke="#666" stroke-width="0.9" />
<text x="119.6" y="700.8" font-size="9.4" text-anchor="end" font-weight="normal" fill="#000" >3000</text>
<rect x="143.8" y="721.26" width="34.2" height="153.54" fill="#000"/>
<rect x="178.4" y="759.19" width="33.400000000000006" height="115.61" fill="#9f9f9f" stroke="#555" stroke-width="0.8"/>
<line x1="160.9" y1="721.2582" x2="160.9" y2="709.2609" stroke="#3a3a3a" stroke-width="1.0" />
<line x1="156.1" y1="709.2609" x2="165.70000000000002" y2="709.2609" stroke="#3a3a3a" stroke-width="1.0" />
<line x1="159.9" y1="874.8" x2="159.9" y2="877.5999999999999" stroke="#666" stroke-width="0.9" />
<line x1="195.1" y1="758.7867" x2="195.1" y2="750.0399" stroke="#3a3a3a" stroke-width="1.0" />
<line x1="190.29999999999998" y1="750.0399" x2="199.9" y2="750.0399" stroke="#3a3a3a" stroke-width="1.0" />
<line x1="194.1" y1="874.8" x2="194.1" y2="877.5999999999999" stroke="#666" stroke-width="0.9" />
<text x="160.9" y="889" font-size="11.8" text-anchor="middle" font-weight="normal" fill="#000" >C</text>
<text x="194.6" y="889" font-size="11.5" text-anchor="middle" font-weight="normal" fill="#000" >C+ IL-3</text>
<text transform="translate(86.5 782.5) rotate(-90)" font-size="13.5" text-anchor="middle" font-weight="normal" fill="#000">Total pixel intensity <tspan dx="0">(x10</tspan><tspan dy="-4.5" font-size="8.5">3</tspan><tspan dy="4.5">)</tspan></text>
<line x1="351.3" y1="698.7" x2="351.3" y2="874.8" stroke="#999" stroke-width="1" />
<line x1="351.3" y1="874.8" x2="458.8" y2="874.8" stroke="#999" stroke-width="1" />
<line x1="349.5" y1="874.8" x2="351.3" y2="874.8" stroke="#999" stroke-width="0.9" />
<text x="348.90000000000003" y="878.0999999999999" font-size="9.4" text-anchor="end" font-weight="normal" fill="#000" >0</text>
<line x1="349.5" y1="849.64" x2="351.3" y2="849.64" stroke="#999" stroke-width="0.9" />
<text x="348.90000000000003" y="852.9399999999999" font-size="9.4" text-anchor="end" font-weight="normal" fill="#000" >500</text>
<line x1="349.5" y1="824.4799999999999" x2="351.3" y2="824.4799999999999" stroke="#999" stroke-width="0.9" />
<text x="348.90000000000003" y="827.7799999999999" font-size="9.4" text-anchor="end" font-weight="normal" fill="#000" >1000</text>
<line x1="349.5" y1="799.3199999999999" x2="351.3" y2="799.3199999999999" stroke="#999" stroke-width="0.9" />
<text x="348.90000000000003" y="802.6199999999999" font-size="9.4" text-anchor="end" font-weight="normal" fill="#000" >1500</text>
<line x1="349.5" y1="774.16" x2="351.3" y2="774.16" stroke="#999" stroke-width="0.9" />
<text x="348.90000000000003" y="777.4599999999999" font-size="9.4" text-anchor="end" font-weight="normal" fill="#000" >2000</text>
<line x1="349.5" y1="749.0" x2="351.3" y2="749.0" stroke="#999" stroke-width="0.9" />
<text x="348.90000000000003" y="752.3" font-size="9.4" text-anchor="end" font-weight="normal" fill="#000" >2500</text>
<line x1="349.5" y1="723.8399999999999" x2="351.3" y2="723.8399999999999" stroke="#999" stroke-width="0.9" />
<text x="348.90000000000003" y="727.1399999999999" font-size="9.4" text-anchor="end" font-weight="normal" fill="#000" >3000</text>
<line x1="349.5" y1="698.68" x2="351.3" y2="698.68" stroke="#999" stroke-width="0.9" />
<text x="348.90000000000003" y="701.9799999999999" font-size="9.4" text-anchor="end" font-weight="normal" fill="#000" >3500</text>
<rect x="373.8" y="709.50" width="35" height="165.30" fill="#000"/>
<rect x="409.2" y="725.90" width="34.2" height="148.90" fill="#9f9f9f" stroke="#555" stroke-width="0.8"/>
<line x1="391.3" y1="709.4988" x2="391.3" y2="698.22712" stroke="#3a3a3a" stroke-width="1.0" />
<line x1="386.5" y1="698.22712" x2="396.1" y2="698.22712" stroke="#3a3a3a" stroke-width="1.0" />
<line x1="390.3" y1="874.8" x2="390.3" y2="877.5999999999999" stroke="#999" stroke-width="0.9" />
<line x1="426.3" y1="725.50056" x2="426.3" y2="707.9892" stroke="#3a3a3a" stroke-width="1.0" />
<line x1="421.5" y1="707.9892" x2="431.1" y2="707.9892" stroke="#3a3a3a" stroke-width="1.0" />
<line x1="425.3" y1="874.8" x2="425.3" y2="877.5999999999999" stroke="#999" stroke-width="0.9" />
<text x="391.3" y="889" font-size="11.8" text-anchor="middle" font-weight="normal" fill="#000" >C</text>
<text x="425.8" y="889" font-size="11.5" text-anchor="middle" font-weight="normal" fill="#000" >C+ IL-3</text>
<text transform="translate(313.8 780.5) rotate(-90)" font-size="13.5" text-anchor="middle" font-weight="normal" fill="#000">Total pixel intensity <tspan dx="3.5">(x10</tspan><tspan dy="-4.5" font-size="8.5">3</tspan><tspan dy="4.5">)</tspan></text>
<text x="194.5" y="750.2" font-size="19.5" text-anchor="middle" font-weight="normal" fill="#000" stroke="#000" stroke-width="0.2">*</text>
<text x="200.8" y="721.3" font-size="13" fill="#111"><tspan font-size="18" dy="3.4" stroke="#000" stroke-width="0.15">*</tspan><tspan dy="-3.4"> </tspan><tspan font-style="italic">P</tspan> = .05</text>
</g>
</svg>
</body></html>
